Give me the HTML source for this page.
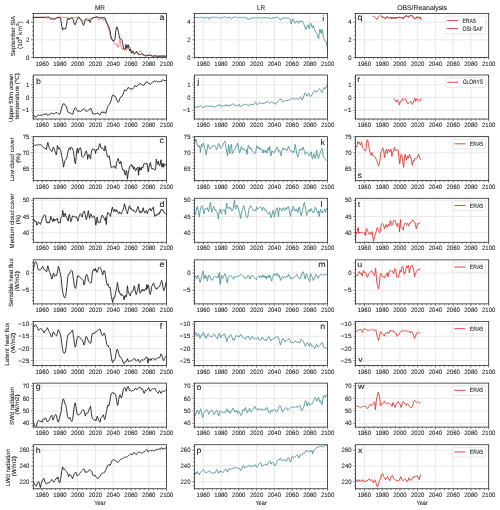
<!DOCTYPE html>
<html><head><meta charset="utf-8"><style>
html,body{margin:0;padding:0;background:#fff;width:500px;height:510px;overflow:hidden}
svg{display:block;will-change:transform}
text{font-family:"Liberation Sans",sans-serif;text-rendering:geometricPrecision;stroke:#1a1a1a;stroke-width:0.08px;paint-order:stroke}
</style></head><body>
<svg width="500" height="510" viewBox="0 0 500 510" font-family="Liberation Sans, sans-serif" fill="#1a1a1a">
<rect width="500" height="510" fill="#fff"/>
<text x="99.9" y="9.8" font-size="6.9" textLength="10.05" lengthAdjust="spacingAndGlyphs" text-anchor="middle">MR</text>
<text x="261" y="9.8" font-size="6.9" textLength="8.08" lengthAdjust="spacingAndGlyphs" text-anchor="middle">LR</text>
<text x="422.1" y="9.8" font-size="6.9" textLength="49.93" lengthAdjust="spacingAndGlyphs" text-anchor="middle">OBS/Reanalysis</text>
<path d="M42.18 13.4V57.4M59.94 13.4V57.4M77.7 13.4V57.4M95.46 13.4V57.4M113.22 13.4V57.4M130.98 13.4V57.4M148.74 13.4V57.4M166.5 13.4V57.4M33.3 57.4H166.5M33.3 39.8H166.5M33.3 22.2H166.5" stroke="#e3e3e3" stroke-width="0.8" fill="none"/>
<clipPath id="cp00"><rect x="33.3" y="13.4" width="133.2" height="44"/></clipPath>
<polyline points="33.03,17.36 45.73,17.36 47.06,18.43 48.4,17.1 51.06,18.03 53.1,18.43 55.77,18.03 59.76,17.1 65.18,17.36 67.84,17.36 69.18,19.37 70.51,18.43 73.17,17.36 75.92,17.62 77.88,16.69 79.21,17.62 80.54,18.7 81.87,20.04 83.21,21.38 84.63,19.77 85.96,18.7 87.29,18.03 88.62,19.37 89.95,18.7 92,18.03 94.66,17.36 97.32,17.36 98.66,20.04 99.9,18.43 100.26,17.62 101.32,18.7 102.65,18.03 103.72,20.71 104.7,19.37 106.03,22.05 107.36,25.4 108.69,29.42 109.67,32.1 110.73,38.13 112.07,39.47 113.58,41.2 114.82,43.6 115.97,45.2 116.77,44 117.57,46.8 118.37,47.2 119.08,43.2 119.61,38.8 120.41,41.2 121.21,47.2 122.01,49.2 122.81,48.8 123.61,48 124.41,48.4 125.21,49.6 126.01,50.8 126.81,49.2 127.61,46 128.4,45.2 129.2,46.4 130,47.2 130.8,49.2 131.6,51.2 132.4,52.4 133.2,54 134,54.8 134.8,54 135.6,53.2 136.4,52 137.2,52 138,54 138.79,53.2 139.59,51.2 140.22,50.19 141.28,51.53 142.17,53.54 144.21,54.88 145.54,55.55 146.88,54.88 148.21,55.55 150.25,54.88 152.29,55.55 154.96,56.22 157.62,55.95 161.62,55.55 167.03,56.22" fill="none" stroke="#f08080" stroke-width="0.9" stroke-linejoin="round" clip-path="url(#cp00)"/>
<polyline points="33.03,17.36 46.44,17.36 47.77,16.69 49.11,17.62 51.06,19.37 52.39,18.7 54.43,19.37 56.48,18.03 59.14,17.36 60.47,18.03 61.18,22.05 61.8,26.74 62.52,30.09 63.58,27.81 64.47,28.75 65.53,29.15 66.51,25.4 67.13,20.04 68.11,18.03 69.18,19.77 70.51,18.03 71.84,17.62 73.17,19.37 74.24,24.06 75.3,24.73 76.55,20.71 77.88,18.03 79.21,17.36 80.54,19.77 81.87,21.38 82.85,24.06 83.65,25.4 84.63,22.05 85.51,19.77 86.58,19.37 87.91,20.71 88.98,19.77 89.95,22.46 90.93,20.04 92,18.43 93.33,17.62 95.28,17.36 97.32,16.69 98.66,17.62 99.9,17.62 100.26,17.62 102.03,18.03 103.98,17.36 105.05,18.03 106.03,20.71 107.36,24.06 108.69,26.07 110.02,30.76 110.73,35.45 111.8,38.8 112.69,40.81 114.11,40.81 115,38.8 115.8,30.76 116.77,26.74 117.39,28.08 118.46,32.1 119.61,38 120.77,38.8 122.01,40.4 122.81,43.6 123.61,49.2 124.41,49.6 125.21,49.2 126.01,44.4 126.81,48.4 127.61,45.2 128.4,44.8 128.94,48.4 129.56,50.8 130.36,49.2 130.8,51.6 131.6,53.2 132.4,50.8 133.2,51.6 134,53.6 134.8,53.6 135.6,52.8 136.4,51.2 137.2,52.8 138,54 138.79,54.8 140.22,54.61 141.55,53.54 142.61,54.88 144.21,54.88 145.54,56.22 146.88,55.55 148.21,55.55 149.54,54.88 150.96,55.55 152.29,56.22 153.62,56.22 154.96,55.55 156.29,56.22 158.95,56.22 161.62,56.22 164.28,56.22 167.03,56.22" fill="none" stroke="#1f1f1f" stroke-width="0.9" stroke-linejoin="round" clip-path="url(#cp00)"/>
<text x="42.18" y="65.6" font-size="6.3" textLength="13.36" lengthAdjust="spacingAndGlyphs" text-anchor="middle">1960</text>
<text x="59.94" y="65.6" font-size="6.3" textLength="13.36" lengthAdjust="spacingAndGlyphs" text-anchor="middle">1980</text>
<text x="77.7" y="65.6" font-size="6.3" textLength="13.36" lengthAdjust="spacingAndGlyphs" text-anchor="middle">2000</text>
<text x="95.46" y="65.6" font-size="6.3" textLength="13.36" lengthAdjust="spacingAndGlyphs" text-anchor="middle">2020</text>
<text x="113.22" y="65.6" font-size="6.3" textLength="13.36" lengthAdjust="spacingAndGlyphs" text-anchor="middle">2040</text>
<text x="130.98" y="65.6" font-size="6.3" textLength="13.36" lengthAdjust="spacingAndGlyphs" text-anchor="middle">2060</text>
<text x="148.74" y="65.6" font-size="6.3" textLength="13.36" lengthAdjust="spacingAndGlyphs" text-anchor="middle">2080</text>
<text x="166.5" y="65.6" font-size="6.3" textLength="13.36" lengthAdjust="spacingAndGlyphs" text-anchor="middle">2100</text>
<path d="M33.3 57.4v1.3M37.74 57.4v1.3M42.18 57.4v2.2M46.62 57.4v1.3M51.06 57.4v1.3M55.5 57.4v1.3M59.94 57.4v2.2M64.38 57.4v1.3M68.82 57.4v1.3M73.26 57.4v1.3M77.7 57.4v2.2M82.14 57.4v1.3M86.58 57.4v1.3M91.02 57.4v1.3M95.46 57.4v2.2M99.9 57.4v1.3M104.34 57.4v1.3M108.78 57.4v1.3M113.22 57.4v2.2M117.66 57.4v1.3M122.1 57.4v1.3M126.54 57.4v1.3M130.98 57.4v2.2M135.42 57.4v1.3M139.86 57.4v1.3M144.3 57.4v1.3M148.74 57.4v2.2M153.18 57.4v1.3M157.62 57.4v1.3M162.06 57.4v1.3M166.5 57.4v2.2M33.3 57.4h-2.2M33.3 53h-1.3M33.3 48.6h-1.3M33.3 44.2h-1.3M33.3 39.8h-2.2M33.3 35.4h-1.3M33.3 31h-1.3M33.3 26.6h-1.3M33.3 22.2h-2.2M33.3 17.8h-1.3M33.3 13.4h-1.3" stroke="#2b2b2b" stroke-width="0.6" fill="none"/>
<text x="29.4" y="59.55" font-size="6.3" textLength="3.34" lengthAdjust="spacingAndGlyphs" text-anchor="end">0</text>
<text x="29.4" y="41.95" font-size="6.3" textLength="3.34" lengthAdjust="spacingAndGlyphs" text-anchor="end">2</text>
<text x="29.4" y="24.35" font-size="6.3" textLength="3.34" lengthAdjust="spacingAndGlyphs" text-anchor="end">4</text>
<rect x="33.3" y="13.4" width="133.2" height="44" fill="none" stroke="#2b2b2b" stroke-width="0.8"/>
<text transform="translate(159.53,20.41) scale(1.08,1)" font-size="8.2">a</text>
<path d="M203.28 13.4V57.4M221.04 13.4V57.4M238.8 13.4V57.4M256.56 13.4V57.4M274.32 13.4V57.4M292.08 13.4V57.4M309.84 13.4V57.4M327.6 13.4V57.4M194.4 57.4H327.6M194.4 39.8H327.6M194.4 22.2H327.6" stroke="#e3e3e3" stroke-width="0.8" fill="none"/>
<clipPath id="cp01"><rect x="194.4" y="13.4" width="133.2" height="44"/></clipPath>
<polyline points="193.96,17.1 195.38,17.36 196.71,17.62 198.04,17.1 199.37,18.03 200.7,17.62 201.33,16.69 202.04,17.36 202.75,18.03 203.64,17.1 204.43,18.43 205.41,17.62 206.3,18.03 207.36,17.36 208.08,17.1 208.7,18.03 209.41,19.37 210.12,17.36 211.18,17.1 212.07,17.62 212.78,17.1 213.85,16.69 214.74,17.36 215.45,17.62 216.51,17.1 217.49,18.03 218.38,17.62 219.44,17.36 220.77,18.03 222.11,17.62 223.44,17.36 224.59,16.69 225.48,17.36 226.19,18.03 227.26,17.36 228.14,18.03 229.12,17.36 230.19,17.1 230.81,18.03 231.52,18.7 232.23,18.03 232.85,17.1 233.56,17.62 234.18,17.36 235.51,16.69 236.58,17.36 237.56,18.03 238.44,17.36 239.6,17.62 240.66,17.36 241.55,18.03 242.53,17.62 243.6,17.36 244.66,18.03 245.55,17.1 246.26,18.03 246.97,18.7 247.59,18.43 248.3,19.77 248.92,18.7 249.63,18.43 250.26,18.03 250.97,18.7 251.85,18.03 252.92,17.62 254.07,18.03 254.96,17.36 255.67,18.03 256.29,18.43 257,17.62 258.07,17.36 258.96,18.03 259.93,17.62 260.82,18.03 261.18,18.03 262.33,17.62 263.66,18.03 265,17.62 266.33,18.03 267.66,17.62 269.08,18.03 270.41,18.03 271.48,18.97 272.37,17.62 273.7,18.03 275.03,17.62 276.45,17.36 277.78,17.1 278.67,18.03 279.74,19.37 280.45,20.31 281.07,18.7 282.13,18.03 283.11,18.43 284.09,17.62 285.15,18.43 286.22,17.62 287.11,18.43 288.44,18.03 289.42,18.43 290.22,19.37 290.75,21.38 291.28,24.06 291.81,21.38 292.52,18.7 293.15,19.37 293.86,20.71 294.48,22.05 295.19,23.39 295.81,22.46 296.52,21.38 297.14,20.71 297.85,22.46 298.56,23.39 299.18,22.05 299.89,20.71 300.52,21.38 301.23,22.05 301.85,20.71 302.56,21.38 303.18,22.46 303.89,24.06 304.51,26.07 305.22,28.08 305.93,29.42 306.55,26.74 307.26,25.4 307.89,24.73 308.6,27.41 309.22,28.75 309.93,25.4 310.55,22.99 311.26,24.73 311.88,26.74 312.59,28.08 313.3,25.4 313.92,27.41 314.64,29.42 315.26,31.43 315.97,32.1 316.59,33.44 317.3,34.78 317.92,36.12 318.63,38.8 319.25,32.77 319.96,29.15 320.67,32.1 321.3,33.44 322.01,29.42 322.63,30.76 323.34,37.46 323.96,39.47 324.67,40.14 325.29,40.81 326,41.48 326.62,44.16 327.07,46.17 327.69,51.13" fill="none" stroke="#4f9497" stroke-width="0.9" stroke-linejoin="round" clip-path="url(#cp01)"/>
<text x="203.28" y="65.6" font-size="6.3" textLength="13.36" lengthAdjust="spacingAndGlyphs" text-anchor="middle">1960</text>
<text x="221.04" y="65.6" font-size="6.3" textLength="13.36" lengthAdjust="spacingAndGlyphs" text-anchor="middle">1980</text>
<text x="238.8" y="65.6" font-size="6.3" textLength="13.36" lengthAdjust="spacingAndGlyphs" text-anchor="middle">2000</text>
<text x="256.56" y="65.6" font-size="6.3" textLength="13.36" lengthAdjust="spacingAndGlyphs" text-anchor="middle">2020</text>
<text x="274.32" y="65.6" font-size="6.3" textLength="13.36" lengthAdjust="spacingAndGlyphs" text-anchor="middle">2040</text>
<text x="292.08" y="65.6" font-size="6.3" textLength="13.36" lengthAdjust="spacingAndGlyphs" text-anchor="middle">2060</text>
<text x="309.84" y="65.6" font-size="6.3" textLength="13.36" lengthAdjust="spacingAndGlyphs" text-anchor="middle">2080</text>
<text x="327.6" y="65.6" font-size="6.3" textLength="13.36" lengthAdjust="spacingAndGlyphs" text-anchor="middle">2100</text>
<path d="M194.4 57.4v1.3M198.84 57.4v1.3M203.28 57.4v2.2M207.72 57.4v1.3M212.16 57.4v1.3M216.6 57.4v1.3M221.04 57.4v2.2M225.48 57.4v1.3M229.92 57.4v1.3M234.36 57.4v1.3M238.8 57.4v2.2M243.24 57.4v1.3M247.68 57.4v1.3M252.12 57.4v1.3M256.56 57.4v2.2M261 57.4v1.3M265.44 57.4v1.3M269.88 57.4v1.3M274.32 57.4v2.2M278.76 57.4v1.3M283.2 57.4v1.3M287.64 57.4v1.3M292.08 57.4v2.2M296.52 57.4v1.3M300.96 57.4v1.3M305.4 57.4v1.3M309.84 57.4v2.2M314.28 57.4v1.3M318.72 57.4v1.3M323.16 57.4v1.3M327.6 57.4v2.2M194.4 57.4h-2.2M194.4 53h-1.3M194.4 48.6h-1.3M194.4 44.2h-1.3M194.4 39.8h-2.2M194.4 35.4h-1.3M194.4 31h-1.3M194.4 26.6h-1.3M194.4 22.2h-2.2M194.4 17.8h-1.3M194.4 13.4h-1.3" stroke="#2b2b2b" stroke-width="0.6" fill="none"/>
<text x="190.5" y="59.55" font-size="6.3" textLength="3.34" lengthAdjust="spacingAndGlyphs" text-anchor="end">0</text>
<text x="190.5" y="41.95" font-size="6.3" textLength="3.34" lengthAdjust="spacingAndGlyphs" text-anchor="end">2</text>
<text x="190.5" y="24.35" font-size="6.3" textLength="3.34" lengthAdjust="spacingAndGlyphs" text-anchor="end">4</text>
<rect x="194.4" y="13.4" width="133.2" height="44" fill="none" stroke="#2b2b2b" stroke-width="0.8"/>
<text transform="translate(322.16,20.84) scale(1.08,1)" font-size="8.2">i</text>
<path d="M364.38 13.4V57.4M382.14 13.4V57.4M399.9 13.4V57.4M417.66 13.4V57.4M435.42 13.4V57.4M453.18 13.4V57.4M470.94 13.4V57.4M488.7 13.4V57.4M355.5 57.4H488.7M355.5 39.8H488.7M355.5 22.2H488.7" stroke="#e3e3e3" stroke-width="0.8" fill="none"/>
<clipPath id="cp02"><rect x="355.5" y="13.4" width="133.2" height="44"/></clipPath>
<polyline points="372.73,16.3 373.62,16.3 374.5,16.6 375.39,17.5 376.01,18.1 376.46,19.3 376.9,19.72 377.34,19.3 377.79,18.1 378.41,17.2 379.3,16.3 379.92,15.7 380.54,15.4 381.07,16 381.7,16.6 382.58,17.2 383.47,17.2 384.36,17.5 384.98,18.28 385.51,18.7 385.87,18.1 386.49,17.2 387.11,16.3 387.73,16.6 388.27,17.5 388.89,17.92 389.51,17.32 390.13,18.1 390.66,17.5 391.29,18.28 391.91,17.32 392.53,18.1 393.06,17.5 393.68,18.4 394.31,17.32 394.93,18.1 395.46,17.5 396.08,18.28 396.7,17.32 397.59,17.8 398.04,17.5 398.83,17.32 399.19,17.2 400.43,17.8 401.59,17.5 402.83,18.4 403.98,17.8 405.23,16.3 406.38,15.7 407.63,16.6 408.78,16.9 410.02,15.7 411.18,15.4 412.42,16 413.58,17.8 414.82,18.7 415.97,18.1 417.22,16.9 418.37,17.5 419.26,17.8 420.24,17.2 420.77,18.7 421.39,19.6" fill="none" stroke="#de3430" stroke-width="0.9" stroke-linejoin="round" clip-path="url(#cp02)"/>
<polyline points="381.7,16.96 382.58,16.96 383.47,17.56 384.36,17.26 384.98,18.04 385.51,19.06 385.87,18.46 386.49,16.96 387.11,16.66 387.73,16.96 388.27,17.26 388.89,18.28 389.51,17.68 390.13,17.86 390.66,17.86 391.29,18.64 391.91,17.08 392.53,18.46 393.06,17.86 393.68,18.16 394.31,17.68 394.93,18.46 395.46,17.26 396.08,18.64 396.7,17.68 397.59,17.56 398.04,17.2 398.83,17.08 399.19,17.5 400.43,17.5 401.59,17.8 402.83,18.1 403.98,18.1 405.23,16 406.38,16 407.63,16.3 408.78,17.2 410.02,15.4 411.18,15.7 412.42,15.7 413.58,18.1 414.82,18.4 415.97,18.4 417.22,16.6 418.37,17.8 419.26,18.1 420.24,16.9 420.77,19 421.39,19.9" fill="none" stroke="#b5403a" stroke-width="0.9" stroke-linejoin="round" clip-path="url(#cp02)"/>
<text x="364.38" y="65.6" font-size="6.3" textLength="13.36" lengthAdjust="spacingAndGlyphs" text-anchor="middle">1960</text>
<text x="382.14" y="65.6" font-size="6.3" textLength="13.36" lengthAdjust="spacingAndGlyphs" text-anchor="middle">1980</text>
<text x="399.9" y="65.6" font-size="6.3" textLength="13.36" lengthAdjust="spacingAndGlyphs" text-anchor="middle">2000</text>
<text x="417.66" y="65.6" font-size="6.3" textLength="13.36" lengthAdjust="spacingAndGlyphs" text-anchor="middle">2020</text>
<text x="435.42" y="65.6" font-size="6.3" textLength="13.36" lengthAdjust="spacingAndGlyphs" text-anchor="middle">2040</text>
<text x="453.18" y="65.6" font-size="6.3" textLength="13.36" lengthAdjust="spacingAndGlyphs" text-anchor="middle">2060</text>
<text x="470.94" y="65.6" font-size="6.3" textLength="13.36" lengthAdjust="spacingAndGlyphs" text-anchor="middle">2080</text>
<text x="488.7" y="65.6" font-size="6.3" textLength="13.36" lengthAdjust="spacingAndGlyphs" text-anchor="middle">2100</text>
<path d="M355.5 57.4v1.3M359.94 57.4v1.3M364.38 57.4v2.2M368.82 57.4v1.3M373.26 57.4v1.3M377.7 57.4v1.3M382.14 57.4v2.2M386.58 57.4v1.3M391.02 57.4v1.3M395.46 57.4v1.3M399.9 57.4v2.2M404.34 57.4v1.3M408.78 57.4v1.3M413.22 57.4v1.3M417.66 57.4v2.2M422.1 57.4v1.3M426.54 57.4v1.3M430.98 57.4v1.3M435.42 57.4v2.2M439.86 57.4v1.3M444.3 57.4v1.3M448.74 57.4v1.3M453.18 57.4v2.2M457.62 57.4v1.3M462.06 57.4v1.3M466.5 57.4v1.3M470.94 57.4v2.2M475.38 57.4v1.3M479.82 57.4v1.3M484.26 57.4v1.3M488.7 57.4v2.2M355.5 57.4h-2.2M355.5 53h-1.3M355.5 48.6h-1.3M355.5 44.2h-1.3M355.5 39.8h-2.2M355.5 35.4h-1.3M355.5 31h-1.3M355.5 26.6h-1.3M355.5 22.2h-2.2M355.5 17.8h-1.3M355.5 13.4h-1.3" stroke="#2b2b2b" stroke-width="0.6" fill="none"/>
<text x="351.6" y="59.55" font-size="6.3" textLength="3.34" lengthAdjust="spacingAndGlyphs" text-anchor="end">0</text>
<text x="351.6" y="41.95" font-size="6.3" textLength="3.34" lengthAdjust="spacingAndGlyphs" text-anchor="end">2</text>
<text x="351.6" y="24.35" font-size="6.3" textLength="3.34" lengthAdjust="spacingAndGlyphs" text-anchor="end">4</text>
<rect x="355.5" y="13.4" width="133.2" height="44" fill="none" stroke="#2b2b2b" stroke-width="0.8"/>
<text transform="translate(357.53,20.11) scale(1.08,1)" font-size="8.2">q</text>
<rect x="445.2" y="16.1" width="40.6" height="17.6" rx="1.3" fill="#fff" fill-opacity="0.8" stroke="#d6d6d6" stroke-width="0.6"/>
<line x1="446.9" y1="20.6" x2="458.1" y2="20.6" stroke="#de3430" stroke-width="0.9"/>
<text x="462.4" y="22.7" font-size="6.3" textLength="13.42" lengthAdjust="spacingAndGlyphs">ERA5</text>
<line x1="446.9" y1="28.6" x2="458.1" y2="28.6" stroke="#b5403a" stroke-width="0.9"/>
<text x="462.4" y="30.7" font-size="6.3" textLength="20.55" lengthAdjust="spacingAndGlyphs">OSI-SAF</text>
<text transform="translate(15,36.2) rotate(-90)" font-size="6.0" text-anchor="middle" textLength="40.28" lengthAdjust="spacingAndGlyphs">September SIA</text>
<text transform="translate(21.6,35.1) rotate(-90) scale(1.1,1)" font-size="6.0" text-anchor="middle">(10<tspan font-size="4.3" dy="-2.3">6</tspan><tspan dy="2.3"> km</tspan><tspan font-size="4.3" dy="-2.3">2</tspan><tspan dy="2.3">)</tspan></text>
<path d="M42.18 75.02V119.02M59.94 75.02V119.02M77.7 75.02V119.02M95.46 75.02V119.02M113.22 75.02V119.02M130.98 75.02V119.02M148.74 75.02V119.02M166.5 75.02V119.02M33.3 110.25H166.5M33.3 97.53H166.5M33.3 84.81H166.5" stroke="#e3e3e3" stroke-width="0.8" fill="none"/>
<clipPath id="cp10"><rect x="33.3" y="75.02" width="133.2" height="44"/></clipPath>
<polyline points="33.03,114.2 34.1,115.54 34.99,116.88 35.96,117.15 37.03,116.21 38.36,114.87 39.69,115.54 41.03,114.87 42.36,115.27 43.69,114.2 45.02,114.47 46.44,113.53 47.77,115.54 49.11,114.2 50.44,113.93 51.77,112.87 53.1,114.2 54.43,113.53 55.77,112.87 57.1,112.6 58.43,113.93 59.76,114.2 60.47,112.87 61.18,109.51 62.25,106.16 63.14,104.15 64.11,103.48 65.18,105.49 66.24,106.16 67.13,109.51 68.11,112.19 69.18,112.87 70.51,113.13 71.84,113.93 72.82,114.2 73.88,110.18 74.77,108.17 75.57,107.5 76.55,109.51 77.88,111.52 79.21,110.86 80.54,111.52 81.87,110.18 83.21,109.51 84.18,108.57 85.25,109.91 86.31,111.78 87.29,110.86 88.62,109.91 89.95,109.11 90.93,108.17 91.73,110.45 92.62,113.53 93.95,113.93 95.28,113.93 96.61,113.53 97.95,112.87 98.92,114.2 99.9,114.87 100.17,114.87 100.7,113.53 101.32,112.19 102.03,112.87 102.65,111.52 103.72,112.87 104.7,112.19 105.67,113.53 106.47,110.86 107.36,107.5 108.34,105.49 109.4,104.15 110.47,102.14 111.36,99.46 112.33,95.44 113.13,94.77 114.11,96.1 115,96.1 116.06,98.13 117.13,100.8 118.1,102.41 118.99,101.47 119.79,98.79 120.77,97.05 122.1,96.1 123.08,94.1 123.88,91.42 124.76,89.81 126.1,90.75 127.07,89.81 128.14,87.41 129.2,88.07 130.18,89.01 131.07,88.47 132.13,89.42 133.2,88.07 134.18,87.13 135.06,85.38 136.22,86.73 137.28,86.06 138.17,84.72 139.15,84.05 140.22,83.64 141.28,84.46 142.17,84.72 143.15,85.38 144.21,85.12 145.28,83.37 146.25,81.77 147.14,82.04 148.21,83.37 149.27,83.64 150.25,84.46 151.23,83.64 152.29,82.31 153.36,81.77 154.25,80.97 155.22,81.77 156.29,80.97 157.35,81.77 158.33,81.37 159.22,82.04 160.28,81.37 161.35,81.77 162.33,80.03 163.21,79.62 164.01,80.7 164.99,80.44 165.97,80.97 167.03,80.03" fill="none" stroke="#1f1f1f" stroke-width="0.9" stroke-linejoin="round" clip-path="url(#cp10)"/>
<text x="42.18" y="127.22" font-size="6.3" textLength="13.36" lengthAdjust="spacingAndGlyphs" text-anchor="middle">1960</text>
<text x="59.94" y="127.22" font-size="6.3" textLength="13.36" lengthAdjust="spacingAndGlyphs" text-anchor="middle">1980</text>
<text x="77.7" y="127.22" font-size="6.3" textLength="13.36" lengthAdjust="spacingAndGlyphs" text-anchor="middle">2000</text>
<text x="95.46" y="127.22" font-size="6.3" textLength="13.36" lengthAdjust="spacingAndGlyphs" text-anchor="middle">2020</text>
<text x="113.22" y="127.22" font-size="6.3" textLength="13.36" lengthAdjust="spacingAndGlyphs" text-anchor="middle">2040</text>
<text x="130.98" y="127.22" font-size="6.3" textLength="13.36" lengthAdjust="spacingAndGlyphs" text-anchor="middle">2060</text>
<text x="148.74" y="127.22" font-size="6.3" textLength="13.36" lengthAdjust="spacingAndGlyphs" text-anchor="middle">2080</text>
<text x="166.5" y="127.22" font-size="6.3" textLength="13.36" lengthAdjust="spacingAndGlyphs" text-anchor="middle">2100</text>
<path d="M33.3 119.02v1.3M37.74 119.02v1.3M42.18 119.02v2.2M46.62 119.02v1.3M51.06 119.02v1.3M55.5 119.02v1.3M59.94 119.02v2.2M64.38 119.02v1.3M68.82 119.02v1.3M73.26 119.02v1.3M77.7 119.02v2.2M82.14 119.02v1.3M86.58 119.02v1.3M91.02 119.02v1.3M95.46 119.02v2.2M99.9 119.02v1.3M104.34 119.02v1.3M108.78 119.02v1.3M113.22 119.02v2.2M117.66 119.02v1.3M122.1 119.02v1.3M126.54 119.02v1.3M130.98 119.02v2.2M135.42 119.02v1.3M139.86 119.02v1.3M144.3 119.02v1.3M148.74 119.02v2.2M153.18 119.02v1.3M157.62 119.02v1.3M162.06 119.02v1.3M166.5 119.02v2.2M33.3 117.88h-1.3M33.3 115.33h-1.3M33.3 112.79h-1.3M33.3 110.25h-2.2M33.3 107.7h-1.3M33.3 105.16h-1.3M33.3 102.62h-1.3M33.3 100.07h-1.3M33.3 97.53h-2.2M33.3 94.99h-1.3M33.3 92.44h-1.3M33.3 89.9h-1.3M33.3 87.36h-1.3M33.3 84.81h-2.2M33.3 82.27h-1.3M33.3 79.73h-1.3M33.3 77.18h-1.3" stroke="#2b2b2b" stroke-width="0.6" fill="none"/>
<text x="29.4" y="112.4" font-size="6.3" textLength="7.74" lengthAdjust="spacingAndGlyphs" text-anchor="end">−1</text>
<text x="29.4" y="99.68" font-size="6.3" textLength="3.34" lengthAdjust="spacingAndGlyphs" text-anchor="end">0</text>
<text x="29.4" y="86.96" font-size="6.3" textLength="3.34" lengthAdjust="spacingAndGlyphs" text-anchor="end">1</text>
<rect x="33.3" y="75.02" width="133.2" height="44" fill="none" stroke="#2b2b2b" stroke-width="0.8"/>
<text transform="translate(35.92,83.74) scale(1.08,1)" font-size="8.2">b</text>
<path d="M203.28 75.02V119.02M221.04 75.02V119.02M238.8 75.02V119.02M256.56 75.02V119.02M274.32 75.02V119.02M292.08 75.02V119.02M309.84 75.02V119.02M327.6 75.02V119.02M194.4 110.25H327.6M194.4 97.53H327.6M194.4 84.81H327.6" stroke="#e3e3e3" stroke-width="0.8" fill="none"/>
<clipPath id="cp11"><rect x="194.4" y="75.02" width="133.2" height="44"/></clipPath>
<polyline points="193.96,105.49 194.67,106.82 195.38,108.17 196,107.5 196.71,106.82 197.33,107.5 198.04,106.43 198.66,106.16 199.37,106.82 199.99,105.9 200.7,105.49 201.33,106.16 202.04,107.23 202.75,107.5 203.37,108.17 204.08,106.82 204.7,106.43 206.03,106.43 207.36,106.16 208.7,106.16 210.12,106.43 211.45,105.9 212.78,106.16 214.11,107.23 215.45,106.82 216.07,106.16 216.78,105.49 217.49,105.08 218.11,106.16 218.82,105.49 219.44,104.15 220.15,104.82 220.77,106.16 221.48,105.49 222.11,106.82 222.82,106.16 223.44,105.49 224.15,105.9 224.86,104.82 225.48,105.08 226.19,105.9 226.81,104.55 227.52,105.08 228.14,106.43 228.85,106.16 229.48,105.49 230.19,105.9 230.81,104.82 231.52,105.08 232.23,104.15 232.85,103.48 233.56,104.15 234.18,104.82 234.89,105.49 235.51,105.08 236.22,106.16 236.85,105.49 237.56,105.9 238.18,105.49 238.89,104.15 239.6,105.49 240.22,106.82 240.93,105.9 241.55,105.49 242.26,105.9 242.88,105.08 243.6,104.82 244.22,104.55 244.93,104.15 245.55,104.82 246.26,104.15 246.97,104.55 247.59,104.82 248.3,105.9 248.92,105.49 249.63,104.55 250.26,104.15 250.97,104.82 251.59,104.55 252.3,104.15 252.92,105.08 253.63,104.15 254.34,103.48 254.96,102.81 255.67,102.14 256.29,103.75 257,104.82 257.63,104.15 258.34,103.75 258.96,103.21 259.67,102.81 260.29,103.21 260.82,102.81 261.18,102.81 262.07,103.75 263.04,103.21 263.93,103.48 265,102.81 266.06,102.41 267.04,101.88 267.93,101.47 268.81,102.41 269.7,103.21 270.68,102.14 271.48,101.47 272.37,102.41 273.34,103.21 274.41,102.81 275.03,103.75 275.74,104.15 276.45,103.21 277.07,102.41 277.78,101.47 278.4,100.8 279.12,100.14 279.74,99.46 280.45,99.19 281.07,98.79 281.78,100.14 282.4,101.47 283.11,102.14 283.82,101.47 284.44,100.8 285.15,100.53 286.49,100.53 287.82,100.14 289.15,100.14 289.77,99.46 290.48,99.19 291.19,98.79 291.81,98.13 292.52,98.39 293.15,98.79 293.86,98.39 294.48,98.79 295.19,99.46 295.81,98.79 296.52,98.79 297.14,99.19 297.85,98.79 298.56,99.46 299.18,98.79 299.89,97.45 300.52,96.78 301.23,98.13 301.85,100.14 302.56,99.46 303.18,98.13 303.89,96.1 304.51,94.1 305.22,92.76 305.93,93.83 306.55,95.44 307.26,96.1 307.89,94.77 308.6,93.43 309.22,94.1 309.93,95.71 310.55,96.78 311.26,96.1 311.88,94.77 312.59,93.83 313.3,92.49 313.92,91.42 314.64,90.75 315.26,91.16 315.97,91.69 316.59,92.09 317.3,91.16 317.92,90.34 318.63,89.42 319.25,88.74 319.96,89.42 320.67,90.08 321.3,91.42 322.01,92.76 322.63,91.42 323.34,89.42 323.96,87.41 324.67,88.07 325.29,88.74 326,87.41 326.62,85.79 327.33,84.46 328.04,83.64" fill="none" stroke="#4f9497" stroke-width="0.9" stroke-linejoin="round" clip-path="url(#cp11)"/>
<text x="203.28" y="127.22" font-size="6.3" textLength="13.36" lengthAdjust="spacingAndGlyphs" text-anchor="middle">1960</text>
<text x="221.04" y="127.22" font-size="6.3" textLength="13.36" lengthAdjust="spacingAndGlyphs" text-anchor="middle">1980</text>
<text x="238.8" y="127.22" font-size="6.3" textLength="13.36" lengthAdjust="spacingAndGlyphs" text-anchor="middle">2000</text>
<text x="256.56" y="127.22" font-size="6.3" textLength="13.36" lengthAdjust="spacingAndGlyphs" text-anchor="middle">2020</text>
<text x="274.32" y="127.22" font-size="6.3" textLength="13.36" lengthAdjust="spacingAndGlyphs" text-anchor="middle">2040</text>
<text x="292.08" y="127.22" font-size="6.3" textLength="13.36" lengthAdjust="spacingAndGlyphs" text-anchor="middle">2060</text>
<text x="309.84" y="127.22" font-size="6.3" textLength="13.36" lengthAdjust="spacingAndGlyphs" text-anchor="middle">2080</text>
<text x="327.6" y="127.22" font-size="6.3" textLength="13.36" lengthAdjust="spacingAndGlyphs" text-anchor="middle">2100</text>
<path d="M194.4 119.02v1.3M198.84 119.02v1.3M203.28 119.02v2.2M207.72 119.02v1.3M212.16 119.02v1.3M216.6 119.02v1.3M221.04 119.02v2.2M225.48 119.02v1.3M229.92 119.02v1.3M234.36 119.02v1.3M238.8 119.02v2.2M243.24 119.02v1.3M247.68 119.02v1.3M252.12 119.02v1.3M256.56 119.02v2.2M261 119.02v1.3M265.44 119.02v1.3M269.88 119.02v1.3M274.32 119.02v2.2M278.76 119.02v1.3M283.2 119.02v1.3M287.64 119.02v1.3M292.08 119.02v2.2M296.52 119.02v1.3M300.96 119.02v1.3M305.4 119.02v1.3M309.84 119.02v2.2M314.28 119.02v1.3M318.72 119.02v1.3M323.16 119.02v1.3M327.6 119.02v2.2M194.4 117.88h-1.3M194.4 115.33h-1.3M194.4 112.79h-1.3M194.4 110.25h-2.2M194.4 107.7h-1.3M194.4 105.16h-1.3M194.4 102.62h-1.3M194.4 100.07h-1.3M194.4 97.53h-2.2M194.4 94.99h-1.3M194.4 92.44h-1.3M194.4 89.9h-1.3M194.4 87.36h-1.3M194.4 84.81h-2.2M194.4 82.27h-1.3M194.4 79.73h-1.3M194.4 77.18h-1.3" stroke="#2b2b2b" stroke-width="0.6" fill="none"/>
<text x="190.5" y="112.4" font-size="6.3" textLength="7.74" lengthAdjust="spacingAndGlyphs" text-anchor="end">−1</text>
<text x="190.5" y="99.68" font-size="6.3" textLength="3.34" lengthAdjust="spacingAndGlyphs" text-anchor="end">0</text>
<text x="190.5" y="86.96" font-size="6.3" textLength="3.34" lengthAdjust="spacingAndGlyphs" text-anchor="end">1</text>
<rect x="194.4" y="75.02" width="133.2" height="44" fill="none" stroke="#2b2b2b" stroke-width="0.8"/>
<text transform="translate(197.21,83.94) scale(1.08,1)" font-size="8.2">j</text>
<path d="M364.38 75.02V119.02M382.14 75.02V119.02M399.9 75.02V119.02M417.66 75.02V119.02M435.42 75.02V119.02M453.18 75.02V119.02M470.94 75.02V119.02M488.7 75.02V119.02M355.5 110.25H488.7M355.5 97.53H488.7M355.5 84.81H488.7" stroke="#e3e3e3" stroke-width="0.8" fill="none"/>
<clipPath id="cp12"><rect x="355.5" y="75.02" width="133.2" height="44"/></clipPath>
<polyline points="393.24,98.55 394.04,99 394.93,99.89 395.64,100.8 396.26,102.14 396.88,100.8 397.59,99.89 398.3,101.7 398.92,103.51 399.37,104.85 399.81,103.51 400.34,101.25 401.05,101.7 401.68,100.35 402.3,98.55 402.83,99.45 403.45,100.35 404.07,99.45 404.78,98.55 405.49,99 406.12,99.89 406.56,101.7 407.36,103.51 407.98,103.05 408.6,103.51 409.31,102.6 410.02,102.14 410.64,101.25 411.27,102.6 411.8,103.51 412.42,104.4 413.04,103.05 413.66,100.8 414.29,99.45 414.73,98.1 415.17,99 415.62,101.7 416.33,100.35 416.95,98.55 417.57,99.45 418.28,99.89 418.99,100.35 419.61,101.25 420.32,100.35 420.86,99 421.48,98.1" fill="none" stroke="#de3430" stroke-width="0.9" stroke-linejoin="round" clip-path="url(#cp12)"/>
<text x="364.38" y="127.22" font-size="6.3" textLength="13.36" lengthAdjust="spacingAndGlyphs" text-anchor="middle">1960</text>
<text x="382.14" y="127.22" font-size="6.3" textLength="13.36" lengthAdjust="spacingAndGlyphs" text-anchor="middle">1980</text>
<text x="399.9" y="127.22" font-size="6.3" textLength="13.36" lengthAdjust="spacingAndGlyphs" text-anchor="middle">2000</text>
<text x="417.66" y="127.22" font-size="6.3" textLength="13.36" lengthAdjust="spacingAndGlyphs" text-anchor="middle">2020</text>
<text x="435.42" y="127.22" font-size="6.3" textLength="13.36" lengthAdjust="spacingAndGlyphs" text-anchor="middle">2040</text>
<text x="453.18" y="127.22" font-size="6.3" textLength="13.36" lengthAdjust="spacingAndGlyphs" text-anchor="middle">2060</text>
<text x="470.94" y="127.22" font-size="6.3" textLength="13.36" lengthAdjust="spacingAndGlyphs" text-anchor="middle">2080</text>
<text x="488.7" y="127.22" font-size="6.3" textLength="13.36" lengthAdjust="spacingAndGlyphs" text-anchor="middle">2100</text>
<path d="M355.5 119.02v1.3M359.94 119.02v1.3M364.38 119.02v2.2M368.82 119.02v1.3M373.26 119.02v1.3M377.7 119.02v1.3M382.14 119.02v2.2M386.58 119.02v1.3M391.02 119.02v1.3M395.46 119.02v1.3M399.9 119.02v2.2M404.34 119.02v1.3M408.78 119.02v1.3M413.22 119.02v1.3M417.66 119.02v2.2M422.1 119.02v1.3M426.54 119.02v1.3M430.98 119.02v1.3M435.42 119.02v2.2M439.86 119.02v1.3M444.3 119.02v1.3M448.74 119.02v1.3M453.18 119.02v2.2M457.62 119.02v1.3M462.06 119.02v1.3M466.5 119.02v1.3M470.94 119.02v2.2M475.38 119.02v1.3M479.82 119.02v1.3M484.26 119.02v1.3M488.7 119.02v2.2M355.5 117.88h-1.3M355.5 115.33h-1.3M355.5 112.79h-1.3M355.5 110.25h-2.2M355.5 107.7h-1.3M355.5 105.16h-1.3M355.5 102.62h-1.3M355.5 100.07h-1.3M355.5 97.53h-2.2M355.5 94.99h-1.3M355.5 92.44h-1.3M355.5 89.9h-1.3M355.5 87.36h-1.3M355.5 84.81h-2.2M355.5 82.27h-1.3M355.5 79.73h-1.3M355.5 77.18h-1.3" stroke="#2b2b2b" stroke-width="0.6" fill="none"/>
<text x="351.6" y="112.4" font-size="6.3" textLength="7.74" lengthAdjust="spacingAndGlyphs" text-anchor="end">−1</text>
<text x="351.6" y="99.68" font-size="6.3" textLength="3.34" lengthAdjust="spacingAndGlyphs" text-anchor="end">0</text>
<text x="351.6" y="86.96" font-size="6.3" textLength="3.34" lengthAdjust="spacingAndGlyphs" text-anchor="end">1</text>
<rect x="355.5" y="75.02" width="133.2" height="44" fill="none" stroke="#2b2b2b" stroke-width="0.8"/>
<text transform="translate(357.32,82.11) scale(1.08,1)" font-size="8.2">r</text>
<rect x="445.5" y="77.72" width="39.8" height="9.6" rx="1.3" fill="#fff" fill-opacity="0.8" stroke="#d6d6d6" stroke-width="0.6"/>
<line x1="447.2" y1="82.22" x2="458.4" y2="82.22" stroke="#de3430" stroke-width="0.9"/>
<text x="462.7" y="84.32" font-size="6.3" textLength="20.39" lengthAdjust="spacingAndGlyphs">GLORYS</text>
<text transform="translate(12.6,97.82) rotate(-90)" font-size="6.0" text-anchor="middle" textLength="48.24" lengthAdjust="spacingAndGlyphs">Upper 50m ocean</text>
<text transform="translate(18.5,96.42) rotate(-90)" font-size="6.0" text-anchor="middle" textLength="46.34" lengthAdjust="spacingAndGlyphs">temperature (°C)</text>
<path d="M42.18 136.64V180.64M59.94 136.64V180.64M77.7 136.64V180.64M95.46 136.64V180.64M113.22 136.64V180.64M130.98 136.64V180.64M148.74 136.64V180.64M166.5 136.64V180.64M33.3 168.61H166.5M33.3 152.78H166.5M33.3 136.96H166.5" stroke="#e3e3e3" stroke-width="0.8" fill="none"/>
<clipPath id="cp20"><rect x="33.3" y="136.64" width="133.2" height="44"/></clipPath>
<polyline points="33.03,147.73 33.66,145.72 34.63,145.05 35.7,145.45 36.76,144.65 37.65,145.05 38.63,144.38 39.69,145.05 40.76,144.65 41.74,145.45 42.62,146.79 43.69,147.73 44.76,148.4 45.73,148.13 46.44,149.47 47.06,145.72 47.77,142.37 48.4,144.38 49.11,147.73 50.17,149.47 51.06,150.81 52.04,151.35 52.84,148.4 53.37,147.06 54.08,148.4 54.7,150.81 55.5,152.42 56.21,154.83 56.83,151.75 57.36,145.45 58.08,147.73 58.7,149.07 59.41,147.73 60.21,149.74 60.83,150.81 61.54,155.1 62.25,158.45 62.87,161.8 63.58,167.16 64.2,163.81 64.91,160.46 65.8,159.79 66.78,157.78 67.58,153.76 68.55,149.47 69.44,147.73 70.24,149.74 71.22,147.06 72.11,147.73 72.9,149.47 73.44,151.75 74.15,156.44 74.77,161.8 75.48,163.81 76.19,156.44 76.81,149.74 77.52,148.13 78.14,153.09 78.85,150.01 79.65,148.13 80.54,147.73 81.25,151.08 81.87,156.44 82.85,157.51 83.65,156.44 84.63,155.1 85.51,152.42 86.31,150.81 87.02,153.76 87.65,159.39 88.36,155.1 88.98,154.43 89.78,157.11 90.58,159.12 91.29,152.42 92,149.47 92.88,149.07 93.95,149.47 94.93,149.74 95.55,153.49 96.26,150.01 97.06,149.07 97.95,149.74 98.66,147.73 99.37,144.38 99.9,143.71 100.17,143.71 100.7,147.06 101.59,148.4 102.39,147.73 103.36,149.47 104.25,151.08 105.05,145.72 105.67,147.73 106.47,152.42 107.36,156.44 108.34,157.11 109.14,155.77 110.02,160.46 110.73,165.15 111.36,167.83 112.33,167.16 113.4,166.89 114.37,165.82 115,167.83 115.8,168.23 116.51,163.14 117.39,160.46 118.19,158.45 118.99,161.8 119.79,163.81 120.77,161.13 121.48,165.15 122.1,167.83 123.08,170.51 124.14,169.84 124.76,173.86 125.47,175.2 126.1,170.51 126.81,171.18 127.43,179.22 128.14,173.86 128.85,170.51 129.47,166.49 130.54,165.82 131.51,164.48 132.13,167.16 132.84,165.82 133.73,169.17 134.53,167.16 135.42,170.91 136.22,170.11 137.02,167.83 137.82,167.16 138.62,175.2 139.24,167.16 139.95,170.51 140.57,167.83 141.28,169.84 141.9,166.89 142.88,167.83 143.68,164.48 144.48,163.14 145.28,163.81 146.25,163.81 146.88,163.14 147.59,167.16 148.21,171.85 149.01,167.16 149.81,163.81 150.52,162.47 151.23,167.16 152.03,169.17 152.91,168.5 153.89,169.17 154.96,170.11 155.58,169.17 156.29,159.12 157.09,163.14 157.62,164.48 158.33,161.13 158.95,164.21 159.66,165.82 160.28,163.81 160.99,159.79 161.62,166.49 162.33,167.16 162.95,163.14 163.66,167.16 164.28,163.81 165.43,165.15 166.32,164.48 167.03,165.15" fill="none" stroke="#1f1f1f" stroke-width="0.9" stroke-linejoin="round" clip-path="url(#cp20)"/>
<text x="42.18" y="188.84" font-size="6.3" textLength="13.36" lengthAdjust="spacingAndGlyphs" text-anchor="middle">1960</text>
<text x="59.94" y="188.84" font-size="6.3" textLength="13.36" lengthAdjust="spacingAndGlyphs" text-anchor="middle">1980</text>
<text x="77.7" y="188.84" font-size="6.3" textLength="13.36" lengthAdjust="spacingAndGlyphs" text-anchor="middle">2000</text>
<text x="95.46" y="188.84" font-size="6.3" textLength="13.36" lengthAdjust="spacingAndGlyphs" text-anchor="middle">2020</text>
<text x="113.22" y="188.84" font-size="6.3" textLength="13.36" lengthAdjust="spacingAndGlyphs" text-anchor="middle">2040</text>
<text x="130.98" y="188.84" font-size="6.3" textLength="13.36" lengthAdjust="spacingAndGlyphs" text-anchor="middle">2060</text>
<text x="148.74" y="188.84" font-size="6.3" textLength="13.36" lengthAdjust="spacingAndGlyphs" text-anchor="middle">2080</text>
<text x="166.5" y="188.84" font-size="6.3" textLength="13.36" lengthAdjust="spacingAndGlyphs" text-anchor="middle">2100</text>
<path d="M33.3 180.64v1.3M37.74 180.64v1.3M42.18 180.64v2.2M46.62 180.64v1.3M51.06 180.64v1.3M55.5 180.64v1.3M59.94 180.64v2.2M64.38 180.64v1.3M68.82 180.64v1.3M73.26 180.64v1.3M77.7 180.64v2.2M82.14 180.64v1.3M86.58 180.64v1.3M91.02 180.64v1.3M95.46 180.64v2.2M99.9 180.64v1.3M104.34 180.64v1.3M108.78 180.64v1.3M113.22 180.64v2.2M117.66 180.64v1.3M122.1 180.64v1.3M126.54 180.64v1.3M130.98 180.64v2.2M135.42 180.64v1.3M139.86 180.64v1.3M144.3 180.64v1.3M148.74 180.64v2.2M153.18 180.64v1.3M157.62 180.64v1.3M162.06 180.64v1.3M166.5 180.64v2.2M33.3 178.11h-1.3M33.3 174.94h-1.3M33.3 171.78h-1.3M33.3 168.61h-2.2M33.3 165.45h-1.3M33.3 162.28h-1.3M33.3 159.11h-1.3M33.3 155.95h-1.3M33.3 152.78h-2.2M33.3 149.62h-1.3M33.3 146.45h-1.3M33.3 143.29h-1.3M33.3 140.12h-1.3M33.3 136.96h-2.2" stroke="#2b2b2b" stroke-width="0.6" fill="none"/>
<text x="29.4" y="170.76" font-size="6.3" textLength="6.68" lengthAdjust="spacingAndGlyphs" text-anchor="end">65</text>
<text x="29.4" y="154.93" font-size="6.3" textLength="6.68" lengthAdjust="spacingAndGlyphs" text-anchor="end">70</text>
<text x="29.4" y="139.11" font-size="6.3" textLength="6.68" lengthAdjust="spacingAndGlyphs" text-anchor="end">75</text>
<rect x="33.3" y="136.64" width="133.2" height="44" fill="none" stroke="#2b2b2b" stroke-width="0.8"/>
<text transform="translate(159.43,143.26) scale(1.08,1)" font-size="8.2">c</text>
<path d="M203.28 136.64V180.64M221.04 136.64V180.64M238.8 136.64V180.64M256.56 136.64V180.64M274.32 136.64V180.64M292.08 136.64V180.64M309.84 136.64V180.64M327.6 136.64V180.64M194.4 168.61H327.6M194.4 152.78H327.6M194.4 136.96H327.6" stroke="#e3e3e3" stroke-width="0.8" fill="none"/>
<clipPath id="cp21"><rect x="194.4" y="136.64" width="133.2" height="44"/></clipPath>
<polyline points="193.96,145.72 194.67,143.04 195.38,141.03 196,139.02 196.71,142.37 197.33,145.72 198.04,145.05 198.66,147.06 199.37,145.72 199.99,148.4 200.44,152.42 200.97,147.06 201.5,144.38 202.04,146.39 202.75,145.05 203.37,143.04 204.08,145.72 204.7,148.4 205.41,149.74 206.03,155.1 206.74,152.42 207.36,148.4 208.08,144.38 208.7,146.39 209.41,147.73 210.12,149.07 210.74,147.73 211.45,147.06 212.07,146.39 212.78,145.72 213.4,146.39 214.11,145.05 214.74,145.72 215.45,146.39 216.07,148.4 216.78,149.74 217.49,147.73 218.11,144.38 218.82,143.71 219.44,145.05 220.15,147.73 220.77,148.4 221.48,147.06 222.11,146.39 222.82,145.72 223.44,143.04 224.15,142.37 224.86,141.03 225.48,144.38 226.19,149.74 226.81,152.42 227.52,155.77 228.14,148.4 228.59,144.38 229.12,149.74 229.74,153.76 230.19,148.4 230.81,145.72 231.52,144.38 232.23,153.76 232.85,153.09 233.56,151.08 234.18,150.41 234.89,149.07 235.51,147.73 236.22,145.72 236.85,146.39 237.56,143.04 238.18,145.05 238.89,149.74 239.6,153.09 240.22,151.08 240.93,147.73 241.55,146.39 242.26,149.07 242.88,149.74 243.6,148.4 244.22,149.07 244.93,150.41 245.55,151.08 246.26,149.74 246.97,154.43 247.59,149.74 248.3,145.05 248.92,145.72 249.63,148.4 250.26,149.07 250.97,147.73 251.59,149.74 252.3,151.08 252.92,151.75 253.63,152.42 254.34,153.09 254.96,153.76 255.67,152.42 256.29,148.4 257,145.72 257.63,147.73 258.34,148.4 258.96,147.06 259.67,149.07 260.29,149.74 260.82,148.4 261.18,148.4 261.71,149.07 262.33,151.08 263.04,153.09 263.66,149.74 264.37,151.08 265,152.42 265.71,150.41 266.33,151.08 267.04,153.09 267.66,149.74 268.37,147.73 269.08,150.41 269.7,146.39 270.41,153.76 271.03,155.77 271.74,151.08 272.37,151.75 273.08,151.08 273.7,153.09 274.41,152.42 275.03,151.75 275.74,149.74 276.45,148.4 277.07,147.06 277.78,148.4 278.4,151.75 279.12,150.41 279.74,151.08 280.45,153.76 281.07,155.77 281.78,151.08 282.4,148.4 283.11,147.73 283.82,149.74 284.44,149.07 285.15,148.4 285.78,149.74 286.49,151.08 287.11,150.41 287.82,148.4 288.44,146.39 289.15,148.4 289.77,150.41 290.48,151.08 291.19,150.41 291.81,151.75 292.52,152.42 293.15,151.08 293.86,152.42 294.48,149.74 295.19,144.38 295.81,147.73 296.52,153.09 297.14,155.1 297.85,157.11 298.56,154.43 299.18,151.08 299.89,149.07 300.52,149.74 301.23,150.41 301.85,148.4 302.56,149.07 303.18,147.06 303.89,149.74 304.51,152.42 305.22,154.43 305.93,153.09 306.55,151.75 307.26,153.09 307.89,153.76 308.6,154.43 309.22,155.77 309.93,154.43 310.55,153.09 311.26,151.75 311.88,157.11 312.59,159.12 313.3,155.1 313.92,153.76 314.64,157.11 315.26,158.45 315.97,155.1 316.59,150.41 317.3,153.76 317.92,157.11 318.63,158.45 319.25,155.77 319.96,153.76 320.67,151.08 321.3,150.41 322.01,148.4 322.63,152.42 323.34,157.11 323.96,157.78 324.67,158.45 325.29,159.12 326,159.79 326.62,160.46 327.33,161.13 328.04,161.8" fill="none" stroke="#4f9497" stroke-width="0.9" stroke-linejoin="round" clip-path="url(#cp21)"/>
<text x="203.28" y="188.84" font-size="6.3" textLength="13.36" lengthAdjust="spacingAndGlyphs" text-anchor="middle">1960</text>
<text x="221.04" y="188.84" font-size="6.3" textLength="13.36" lengthAdjust="spacingAndGlyphs" text-anchor="middle">1980</text>
<text x="238.8" y="188.84" font-size="6.3" textLength="13.36" lengthAdjust="spacingAndGlyphs" text-anchor="middle">2000</text>
<text x="256.56" y="188.84" font-size="6.3" textLength="13.36" lengthAdjust="spacingAndGlyphs" text-anchor="middle">2020</text>
<text x="274.32" y="188.84" font-size="6.3" textLength="13.36" lengthAdjust="spacingAndGlyphs" text-anchor="middle">2040</text>
<text x="292.08" y="188.84" font-size="6.3" textLength="13.36" lengthAdjust="spacingAndGlyphs" text-anchor="middle">2060</text>
<text x="309.84" y="188.84" font-size="6.3" textLength="13.36" lengthAdjust="spacingAndGlyphs" text-anchor="middle">2080</text>
<text x="327.6" y="188.84" font-size="6.3" textLength="13.36" lengthAdjust="spacingAndGlyphs" text-anchor="middle">2100</text>
<path d="M194.4 180.64v1.3M198.84 180.64v1.3M203.28 180.64v2.2M207.72 180.64v1.3M212.16 180.64v1.3M216.6 180.64v1.3M221.04 180.64v2.2M225.48 180.64v1.3M229.92 180.64v1.3M234.36 180.64v1.3M238.8 180.64v2.2M243.24 180.64v1.3M247.68 180.64v1.3M252.12 180.64v1.3M256.56 180.64v2.2M261 180.64v1.3M265.44 180.64v1.3M269.88 180.64v1.3M274.32 180.64v2.2M278.76 180.64v1.3M283.2 180.64v1.3M287.64 180.64v1.3M292.08 180.64v2.2M296.52 180.64v1.3M300.96 180.64v1.3M305.4 180.64v1.3M309.84 180.64v2.2M314.28 180.64v1.3M318.72 180.64v1.3M323.16 180.64v1.3M327.6 180.64v2.2M194.4 178.11h-1.3M194.4 174.94h-1.3M194.4 171.78h-1.3M194.4 168.61h-2.2M194.4 165.45h-1.3M194.4 162.28h-1.3M194.4 159.11h-1.3M194.4 155.95h-1.3M194.4 152.78h-2.2M194.4 149.62h-1.3M194.4 146.45h-1.3M194.4 143.29h-1.3M194.4 140.12h-1.3M194.4 136.96h-2.2" stroke="#2b2b2b" stroke-width="0.6" fill="none"/>
<text x="190.5" y="170.76" font-size="6.3" textLength="6.68" lengthAdjust="spacingAndGlyphs" text-anchor="end">65</text>
<text x="190.5" y="154.93" font-size="6.3" textLength="6.68" lengthAdjust="spacingAndGlyphs" text-anchor="end">70</text>
<text x="190.5" y="139.11" font-size="6.3" textLength="6.68" lengthAdjust="spacingAndGlyphs" text-anchor="end">75</text>
<rect x="194.4" y="136.64" width="133.2" height="44" fill="none" stroke="#2b2b2b" stroke-width="0.8"/>
<text transform="translate(320.41,144.94) scale(1.08,1)" font-size="8.2">k</text>
<path d="M364.38 136.64V180.64M382.14 136.64V180.64M399.9 136.64V180.64M417.66 136.64V180.64M435.42 136.64V180.64M453.18 136.64V180.64M470.94 136.64V180.64M488.7 136.64V180.64M355.5 168.61H488.7M355.5 152.78H488.7M355.5 136.96H488.7" stroke="#e3e3e3" stroke-width="0.8" fill="none"/>
<clipPath id="cp22"><rect x="355.5" y="136.64" width="133.2" height="44"/></clipPath>
<polyline points="355.5,148.36 355.94,147.9 356.39,147.44 356.83,146.98 357.28,144.21 357.81,141.45 358.25,141.91 358.7,143.29 359.14,142.37 359.58,143.76 360.03,144.68 360.56,145.14 361.01,143.29 361.45,141.91 361.89,143.76 362.34,146.52 362.87,147.9 363.31,148.36 363.76,148.82 364.2,149.28 364.65,150.21 365.18,151.13 365.62,150.67 366.07,148.82 366.51,143.76 366.96,140.53 367.4,139.61 367.93,140.99 368.38,144.21 368.82,146.52 369.26,148.82 369.71,151.13 370.24,153.43 370.68,154.81 371.13,155.28 371.57,153.89 372.02,152.51 372.55,154.35 372.99,155.73 373.44,156.2 373.88,156.38 374.33,156.2 374.77,156.66 375.3,157.12 375.75,158.5 376.19,159.42 376.63,160.81 377.08,161.26 377.61,162.65 378.06,164.49 378.5,165.87 378.94,164.95 379.39,163.57 379.92,160.81 380.36,156.2 380.81,152.97 381.25,151.59 381.7,151.13 382.23,148.82 382.67,147.9 383.12,148.82 383.56,149.75 384,153.43 384.45,157.58 384.98,155.73 385.43,151.59 385.87,150.21 386.31,149.28 386.76,150.67 387.29,153.43 387.73,152.05 388.18,149.75 388.62,149.28 389.07,150.21 389.6,151.13 390.04,152.05 390.49,150.67 390.93,149.28 391.38,151.13 391.82,156.2 392.35,154.35 392.8,152.51 393.24,151.13 393.68,150.21 394.13,147.9 394.66,147.44 395.1,149.75 395.55,151.13 395.99,150.67 396.44,150.21 396.97,149.75 397.41,149.28 397.86,150.21 398.3,150.67 398.75,156.2 399.72,163.6 400.34,158.1 400.88,154.8 401.41,154.25 401.94,155.35 402.48,158.65 403.01,163.6 403.63,167.45 404.16,161.4 404.7,155.9 405.23,154.25 405.76,156.45 406.38,160.3 406.92,158.65 407.45,155.9 407.98,157 408.51,158.1 409.14,155.35 409.67,154.25 410.2,156.45 410.73,158.1 411.27,159.2 411.89,163.05 412.42,165.25 412.95,161.95 413.49,160.3 414.02,161.4 414.64,159.2 415.17,158.1 415.71,158.65 416.24,158.65 416.77,158.32 417.39,157 417.93,155.35 418.46,154.25 418.99,155.35 419.52,157 420.06,158.65 420.68,159.75" fill="none" stroke="#de3430" stroke-width="0.9" stroke-linejoin="round" clip-path="url(#cp22)"/>
<text x="364.38" y="188.84" font-size="6.3" textLength="13.36" lengthAdjust="spacingAndGlyphs" text-anchor="middle">1960</text>
<text x="382.14" y="188.84" font-size="6.3" textLength="13.36" lengthAdjust="spacingAndGlyphs" text-anchor="middle">1980</text>
<text x="399.9" y="188.84" font-size="6.3" textLength="13.36" lengthAdjust="spacingAndGlyphs" text-anchor="middle">2000</text>
<text x="417.66" y="188.84" font-size="6.3" textLength="13.36" lengthAdjust="spacingAndGlyphs" text-anchor="middle">2020</text>
<text x="435.42" y="188.84" font-size="6.3" textLength="13.36" lengthAdjust="spacingAndGlyphs" text-anchor="middle">2040</text>
<text x="453.18" y="188.84" font-size="6.3" textLength="13.36" lengthAdjust="spacingAndGlyphs" text-anchor="middle">2060</text>
<text x="470.94" y="188.84" font-size="6.3" textLength="13.36" lengthAdjust="spacingAndGlyphs" text-anchor="middle">2080</text>
<text x="488.7" y="188.84" font-size="6.3" textLength="13.36" lengthAdjust="spacingAndGlyphs" text-anchor="middle">2100</text>
<path d="M355.5 180.64v1.3M359.94 180.64v1.3M364.38 180.64v2.2M368.82 180.64v1.3M373.26 180.64v1.3M377.7 180.64v1.3M382.14 180.64v2.2M386.58 180.64v1.3M391.02 180.64v1.3M395.46 180.64v1.3M399.9 180.64v2.2M404.34 180.64v1.3M408.78 180.64v1.3M413.22 180.64v1.3M417.66 180.64v2.2M422.1 180.64v1.3M426.54 180.64v1.3M430.98 180.64v1.3M435.42 180.64v2.2M439.86 180.64v1.3M444.3 180.64v1.3M448.74 180.64v1.3M453.18 180.64v2.2M457.62 180.64v1.3M462.06 180.64v1.3M466.5 180.64v1.3M470.94 180.64v2.2M475.38 180.64v1.3M479.82 180.64v1.3M484.26 180.64v1.3M488.7 180.64v2.2M355.5 178.11h-1.3M355.5 174.94h-1.3M355.5 171.78h-1.3M355.5 168.61h-2.2M355.5 165.45h-1.3M355.5 162.28h-1.3M355.5 159.11h-1.3M355.5 155.95h-1.3M355.5 152.78h-2.2M355.5 149.62h-1.3M355.5 146.45h-1.3M355.5 143.29h-1.3M355.5 140.12h-1.3M355.5 136.96h-2.2" stroke="#2b2b2b" stroke-width="0.6" fill="none"/>
<text x="351.6" y="170.76" font-size="6.3" textLength="6.68" lengthAdjust="spacingAndGlyphs" text-anchor="end">65</text>
<text x="351.6" y="154.93" font-size="6.3" textLength="6.68" lengthAdjust="spacingAndGlyphs" text-anchor="end">70</text>
<text x="351.6" y="139.11" font-size="6.3" textLength="6.68" lengthAdjust="spacingAndGlyphs" text-anchor="end">75</text>
<rect x="355.5" y="136.64" width="133.2" height="44" fill="none" stroke="#2b2b2b" stroke-width="0.8"/>
<text transform="translate(357.55,177.6) scale(1.08,1)" font-size="8.2">s</text>
<rect x="452.6" y="139.34" width="32.7" height="9.6" rx="1.3" fill="#fff" fill-opacity="0.8" stroke="#d6d6d6" stroke-width="0.6"/>
<line x1="454.3" y1="143.84" x2="465.5" y2="143.84" stroke="#de3430" stroke-width="0.9"/>
<text x="469.8" y="145.94" font-size="6.3" textLength="13.42" lengthAdjust="spacingAndGlyphs">ERA5</text>
<text transform="translate(13.7,159.44) rotate(-90)" font-size="6.0" text-anchor="middle" textLength="43.7" lengthAdjust="spacingAndGlyphs">Low cloud cover</text>
<text transform="translate(19.6,158.04) rotate(-90)" font-size="6.0" text-anchor="middle" textLength="9.34" lengthAdjust="spacingAndGlyphs">(%)</text>
<path d="M42.18 198.26V242.26M59.94 198.26V242.26M77.7 198.26V242.26M95.46 198.26V242.26M113.22 198.26V242.26M130.98 198.26V242.26M148.74 198.26V242.26M166.5 198.26V242.26M33.3 232.81H166.5M33.3 216.51H166.5M33.3 200.22H166.5" stroke="#e3e3e3" stroke-width="0.8" fill="none"/>
<clipPath id="cp30"><rect x="33.3" y="198.26" width="133.2" height="44"/></clipPath>
<polyline points="33.03,217.77 34.1,219.78 34.99,221.79 35.96,221.12 36.76,225.14 37.56,224.47 38.36,221.79 39.43,223.13 40.4,224.47 41.29,221.79 42.09,219.11 43.07,217.1 43.69,215.49 44.76,214.69 45.47,215.76 46,219.11 46.44,222.46 47.24,223.13 48.04,221.79 48.84,223.13 49.64,222.46 50.17,219.11 50.7,216.43 51.5,218.44 52.13,220.45 52.84,221.79 53.37,218.44 54.17,221.12 54.88,219.11 55.77,220.45 56.57,219.11 57.36,218.17 57.9,221.12 58.7,223.13 59.5,222.46 60.21,223.13 60.74,218.44 61.45,217.1 62.07,216.43 62.6,210.4 63.31,212.41 63.85,217.1 64.47,215.76 65.18,213.08 65.8,215.76 66.51,217.1 67.31,219.11 68.11,221.12 68.82,215.76 69.44,214.42 70.15,219.11 70.77,221.79 71.48,220.45 72.11,217.1 72.9,215.76 73.62,216.83 74.5,216.43 75.57,217.1 76.55,216.83 77.26,219.51 77.88,221.12 78.59,217.77 79.39,215.76 80.19,213.75 80.99,214.42 81.61,216.43 82.32,217.1 82.94,213.08 83.65,211.74 84.36,211.07 84.98,213.75 85.69,217.1 86.31,219.78 87.02,217.1 87.65,214.42 88.36,210.67 88.98,215.76 89.69,218.44 90.31,214.42 91.02,213.75 91.73,216.43 92.35,217.77 93.06,217.1 93.68,215.76 94.39,216.43 95.02,219.11 95.73,225.14 96.35,223.13 97.06,217.1 97.68,219.78 98.39,223.13 99.37,221.79 99.9,222.46 100.17,222.46 100.7,219.78 101.59,216.43 102.39,215.09 103.36,217.1 104.25,218.44 105.05,220.45 105.67,217.1 106.29,224.47 107,215.76 107.8,212.41 108.69,213.75 109.67,214.42 110.47,216.43 111.09,213.08 111.8,209.06 112.42,207.05 113.13,210.4 113.84,211.74 114.46,209.06 115.44,210.4 116.06,211.74 116.77,209.73 117.39,211.74 118.1,212.41 118.73,213.75 119.44,211.74 120.06,213.08 120.77,213.75 121.48,213.75 122.1,211.74 122.81,210.4 123.7,207.72 124.5,203.7 125.21,206.38 126.1,210.4 126.81,211.74 127.43,213.75 128.14,210.4 128.85,207.05 129.74,205.71 130.54,209.06 131.25,208.39 132.13,210.4 132.84,209.73 133.47,211.07 134.18,210.4 134.8,211.74 135.51,212.41 136.49,211.07 137.28,208.39 138.08,206.38 138.88,209.73 139.5,212.41 140.22,213.08 140.84,211.07 141.81,212.41 142.61,209.73 143.15,207.72 143.94,211.07 144.66,213.08 145.28,212.41 145.99,211.07 146.61,210.4 147.32,213.75 147.94,211.74 148.65,210.4 149.27,209.06 149.98,208.39 150.69,210.4 151.32,211.07 152.03,209.06 152.65,207.72 153.36,207.05 153.98,211.74 154.69,216.43 155.31,215.76 156.29,214.42 156.91,215.76 157.62,214.42 158.33,213.08 158.95,214.42 159.66,211.74 160.28,212.41 160.99,209.73 161.62,209.06 162.33,210.4 162.95,209.73 163.66,211.74 164.55,213.08 165.7,213.75 167.03,213.75" fill="none" stroke="#1f1f1f" stroke-width="0.9" stroke-linejoin="round" clip-path="url(#cp30)"/>
<text x="42.18" y="250.46" font-size="6.3" textLength="13.36" lengthAdjust="spacingAndGlyphs" text-anchor="middle">1960</text>
<text x="59.94" y="250.46" font-size="6.3" textLength="13.36" lengthAdjust="spacingAndGlyphs" text-anchor="middle">1980</text>
<text x="77.7" y="250.46" font-size="6.3" textLength="13.36" lengthAdjust="spacingAndGlyphs" text-anchor="middle">2000</text>
<text x="95.46" y="250.46" font-size="6.3" textLength="13.36" lengthAdjust="spacingAndGlyphs" text-anchor="middle">2020</text>
<text x="113.22" y="250.46" font-size="6.3" textLength="13.36" lengthAdjust="spacingAndGlyphs" text-anchor="middle">2040</text>
<text x="130.98" y="250.46" font-size="6.3" textLength="13.36" lengthAdjust="spacingAndGlyphs" text-anchor="middle">2060</text>
<text x="148.74" y="250.46" font-size="6.3" textLength="13.36" lengthAdjust="spacingAndGlyphs" text-anchor="middle">2080</text>
<text x="166.5" y="250.46" font-size="6.3" textLength="13.36" lengthAdjust="spacingAndGlyphs" text-anchor="middle">2100</text>
<path d="M33.3 242.26v1.3M37.74 242.26v1.3M42.18 242.26v2.2M46.62 242.26v1.3M51.06 242.26v1.3M55.5 242.26v1.3M59.94 242.26v2.2M64.38 242.26v1.3M68.82 242.26v1.3M73.26 242.26v1.3M77.7 242.26v2.2M82.14 242.26v1.3M86.58 242.26v1.3M91.02 242.26v1.3M95.46 242.26v2.2M99.9 242.26v1.3M104.34 242.26v1.3M108.78 242.26v1.3M113.22 242.26v2.2M117.66 242.26v1.3M122.1 242.26v1.3M126.54 242.26v1.3M130.98 242.26v2.2M135.42 242.26v1.3M139.86 242.26v1.3M144.3 242.26v1.3M148.74 242.26v2.2M153.18 242.26v1.3M157.62 242.26v1.3M162.06 242.26v1.3M166.5 242.26v2.2M33.3 239.33h-1.3M33.3 236.07h-1.3M33.3 232.81h-2.2M33.3 229.55h-1.3M33.3 226.29h-1.3M33.3 223.03h-1.3M33.3 219.77h-1.3M33.3 216.51h-2.2M33.3 213.25h-1.3M33.3 209.99h-1.3M33.3 206.73h-1.3M33.3 203.47h-1.3M33.3 200.22h-2.2" stroke="#2b2b2b" stroke-width="0.6" fill="none"/>
<text x="29.4" y="234.96" font-size="6.3" textLength="6.68" lengthAdjust="spacingAndGlyphs" text-anchor="end">40</text>
<text x="29.4" y="218.66" font-size="6.3" textLength="6.68" lengthAdjust="spacingAndGlyphs" text-anchor="end">45</text>
<text x="29.4" y="202.37" font-size="6.3" textLength="6.68" lengthAdjust="spacingAndGlyphs" text-anchor="end">50</text>
<rect x="33.3" y="198.26" width="133.2" height="44" fill="none" stroke="#2b2b2b" stroke-width="0.8"/>
<text transform="translate(159.43,207.04) scale(1.08,1)" font-size="8.2">d</text>
<path d="M203.28 198.26V242.26M221.04 198.26V242.26M238.8 198.26V242.26M256.56 198.26V242.26M274.32 198.26V242.26M292.08 198.26V242.26M309.84 198.26V242.26M327.6 198.26V242.26M194.4 232.81H327.6M194.4 216.51H327.6M194.4 200.22H327.6" stroke="#e3e3e3" stroke-width="0.8" fill="none"/>
<clipPath id="cp31"><rect x="194.4" y="198.26" width="133.2" height="44"/></clipPath>
<polyline points="193.96,209.73 194.67,213.08 195.38,214.42 196,211.74 196.71,207.72 197.33,206.38 198.04,209.73 198.66,213.08 199.37,217.1 199.99,211.74 200.7,207.72 201.33,206.38 202.04,205.71 202.75,207.72 203.37,210.4 204.08,213.75 204.7,210.4 205.41,208.39 206.03,209.06 206.74,208.39 207.36,207.72 208.08,210.4 208.7,211.74 209.41,207.72 210.12,203.7 210.47,202.36 211.01,207.72 211.72,212.41 212.34,209.73 213.05,207.72 213.67,206.38 214.38,208.39 215,210.4 215.71,209.73 216.42,211.74 217.04,212.41 217.75,214.42 218.38,219.11 218.82,214.42 219.44,210.4 220.15,209.06 220.77,211.74 221.48,213.75 222.11,210.4 222.82,209.73 223.44,210.4 224.15,209.73 224.86,211.74 225.48,214.42 226.19,206.38 226.72,203.03 227.26,207.05 227.88,208.39 228.59,207.72 229.21,207.05 229.92,209.06 230.54,207.72 231.25,209.73 231.96,211.07 232.58,210.4 233.29,208.39 233.92,204.37 234.45,200.35 235.16,207.72 235.78,209.06 236.49,206.38 237.11,205.04 237.82,207.05 238.44,209.06 239.16,211.74 239.87,213.75 240.49,218.44 241.2,214.42 241.82,211.74 242.53,209.73 243.15,207.05 243.86,205.71 244.48,209.06 245.19,210.4 245.82,215.76 246.53,217.1 247.24,217.77 247.86,216.43 248.57,210.4 249.19,207.72 249.9,207.05 250.52,205.71 251.23,207.05 251.85,208.39 252.56,209.06 253.19,210.4 253.9,211.07 254.61,210.4 255.23,209.73 255.94,211.07 256.56,207.05 257.27,207.72 257.89,209.06 258.6,208.39 259.22,207.72 259.93,207.05 260.56,206.65 260.82,207.05 261.18,207.05 261.71,209.06 262.33,210.4 263.04,208.39 263.66,207.05 264.37,209.06 265,210.4 265.71,209.73 266.33,211.07 267.04,212.41 267.66,213.08 268.37,214.42 269.08,213.75 269.7,211.74 270.41,214.42 271.03,217.77 271.74,215.76 272.37,213.08 273.08,210.4 273.7,211.74 274.41,217.1 275.03,214.42 275.74,211.74 276.45,208.39 277.07,207.72 277.78,210.4 278.4,216.43 279.12,210.4 279.74,207.72 280.45,208.39 281.07,209.73 281.78,211.07 282.4,209.06 283.11,207.72 283.82,208.39 284.44,210.4 285.15,209.06 285.78,207.72 286.49,209.73 287.11,208.39 287.82,207.05 288.44,206.38 289.15,209.06 289.77,213.08 290.48,216.43 291.19,211.74 291.81,209.73 292.52,210.4 293.15,206.38 293.86,208.39 294.48,210.4 295.19,209.73 295.81,211.07 296.52,209.06 297.14,210.4 297.85,212.41 298.56,209.06 299.18,207.05 299.89,209.73 300.52,214.42 301.23,215.76 301.85,213.08 302.56,210.4 303.18,206.38 303.89,203.7 304.51,202.36 305.22,206.38 305.93,210.4 306.55,215.76 307.26,213.08 307.89,211.74 308.6,210.4 309.22,209.73 309.93,211.74 310.55,209.06 311.26,208.39 311.88,210.4 312.59,211.74 313.3,213.08 313.92,211.74 314.64,209.73 315.26,207.05 315.97,207.72 316.59,209.73 317.3,212.41 317.92,213.08 318.63,211.07 319.25,216.43 319.96,211.74 320.67,209.06 321.3,212.41 322.01,213.08 322.63,211.07 323.34,211.74 323.96,210.4 324.67,209.06 325.29,212.41 326,210.4 326.62,208.39 327.33,209.73 328.04,211.74" fill="none" stroke="#4f9497" stroke-width="0.9" stroke-linejoin="round" clip-path="url(#cp31)"/>
<text x="203.28" y="250.46" font-size="6.3" textLength="13.36" lengthAdjust="spacingAndGlyphs" text-anchor="middle">1960</text>
<text x="221.04" y="250.46" font-size="6.3" textLength="13.36" lengthAdjust="spacingAndGlyphs" text-anchor="middle">1980</text>
<text x="238.8" y="250.46" font-size="6.3" textLength="13.36" lengthAdjust="spacingAndGlyphs" text-anchor="middle">2000</text>
<text x="256.56" y="250.46" font-size="6.3" textLength="13.36" lengthAdjust="spacingAndGlyphs" text-anchor="middle">2020</text>
<text x="274.32" y="250.46" font-size="6.3" textLength="13.36" lengthAdjust="spacingAndGlyphs" text-anchor="middle">2040</text>
<text x="292.08" y="250.46" font-size="6.3" textLength="13.36" lengthAdjust="spacingAndGlyphs" text-anchor="middle">2060</text>
<text x="309.84" y="250.46" font-size="6.3" textLength="13.36" lengthAdjust="spacingAndGlyphs" text-anchor="middle">2080</text>
<text x="327.6" y="250.46" font-size="6.3" textLength="13.36" lengthAdjust="spacingAndGlyphs" text-anchor="middle">2100</text>
<path d="M194.4 242.26v1.3M198.84 242.26v1.3M203.28 242.26v2.2M207.72 242.26v1.3M212.16 242.26v1.3M216.6 242.26v1.3M221.04 242.26v2.2M225.48 242.26v1.3M229.92 242.26v1.3M234.36 242.26v1.3M238.8 242.26v2.2M243.24 242.26v1.3M247.68 242.26v1.3M252.12 242.26v1.3M256.56 242.26v2.2M261 242.26v1.3M265.44 242.26v1.3M269.88 242.26v1.3M274.32 242.26v2.2M278.76 242.26v1.3M283.2 242.26v1.3M287.64 242.26v1.3M292.08 242.26v2.2M296.52 242.26v1.3M300.96 242.26v1.3M305.4 242.26v1.3M309.84 242.26v2.2M314.28 242.26v1.3M318.72 242.26v1.3M323.16 242.26v1.3M327.6 242.26v2.2M194.4 239.33h-1.3M194.4 236.07h-1.3M194.4 232.81h-2.2M194.4 229.55h-1.3M194.4 226.29h-1.3M194.4 223.03h-1.3M194.4 219.77h-1.3M194.4 216.51h-2.2M194.4 213.25h-1.3M194.4 209.99h-1.3M194.4 206.73h-1.3M194.4 203.47h-1.3M194.4 200.22h-2.2" stroke="#2b2b2b" stroke-width="0.6" fill="none"/>
<text x="190.5" y="234.96" font-size="6.3" textLength="6.68" lengthAdjust="spacingAndGlyphs" text-anchor="end">40</text>
<text x="190.5" y="218.66" font-size="6.3" textLength="6.68" lengthAdjust="spacingAndGlyphs" text-anchor="end">45</text>
<text x="190.5" y="202.37" font-size="6.3" textLength="6.68" lengthAdjust="spacingAndGlyphs" text-anchor="end">50</text>
<rect x="194.4" y="198.26" width="133.2" height="44" fill="none" stroke="#2b2b2b" stroke-width="0.8"/>
<text transform="translate(320.41,206.54) scale(1.08,1)" font-size="8.2">l</text>
<path d="M364.38 198.26V242.26M382.14 198.26V242.26M399.9 198.26V242.26M417.66 198.26V242.26M435.42 198.26V242.26M453.18 198.26V242.26M470.94 198.26V242.26M488.7 198.26V242.26M355.5 232.81H488.7M355.5 216.51H488.7M355.5 200.22H488.7" stroke="#e3e3e3" stroke-width="0.8" fill="none"/>
<clipPath id="cp32"><rect x="355.5" y="198.26" width="133.2" height="44"/></clipPath>
<polyline points="355.5,240.31 355.77,235.71 356.12,232.02 356.48,232.48 356.83,233.4 357.28,231.1 357.81,228.79 358.25,227.41 358.52,231.1 358.87,233.4 359.23,232.02 359.58,232.48 360.03,232.02 360.56,232.48 361.01,232.48 361.45,232.48 361.89,232.48 362.34,232.02 362.87,232.48 363.31,233.4 363.76,233.86 364.2,234.32 364.65,233.4 365.18,232.02 365.62,235.71 366.07,230.18 366.51,228.33 366.96,229.72 367.4,231.1 367.93,231.56 368.38,232.48 368.82,233.4 369.26,234.32 369.71,233.86 370.24,232.48 370.68,233.4 371.13,234.32 371.57,232.48 372.02,231.56 372.55,232.94 372.99,238.01 373.44,241.24 373.88,239.85 374.33,237.09 374.77,236.17 375.3,234.78 375.75,232.94 376.19,231.56 376.63,229.72 377.08,227.87 377.61,227.41 378.06,229.26 378.5,230.18 378.94,231.56 379.39,232.94 379.92,232.48 380.36,230.64 380.81,227.41 381.25,225.11 381.7,223.72 382.23,223.72 382.67,223.54 383.12,224.19 383.56,224.65 384,226.49 384.45,228.79 384.98,228.33 385.43,226.03 385.87,225.11 386.31,224.65 386.76,226.49 387.29,227.41 387.73,226.03 388.18,224.65 388.62,224.19 389.07,225.57 389.6,226.03 390.04,220.96 390.49,220.5 390.93,221.88 391.38,224.65 391.82,225.57 392.26,225.11 392.8,224.19 393.24,221.88 393.68,220.5 394.13,220.5 394.57,220.96 395.1,220.5 395.55,221.42 395.99,223.27 396.44,225.57 396.88,226.49 397.41,224.65 397.86,223.27 398.3,223.72 398.75,224.19 399.19,227.87 399.46,232.02 399.9,226.49 400.17,222.81 400.43,219.58 400.79,223.72 401.05,227.41 401.5,226.95 401.94,227.41 402.48,228.33 402.92,229.26 403.36,230.18 403.81,226.49 404.25,224.65 404.78,223.72 405.23,223.27 405.67,222.81 406.12,224.19 406.56,224.65 407.09,223.72 407.54,223.27 407.98,224.19 408.42,226.03 408.87,225.57 409.31,224.19 409.85,222.81 410.29,223.27 410.73,222.34 411.18,221.88 411.62,222.07 412.15,220.96 412.6,220.04 413.04,219.86 413.49,220.5 413.93,221.42 414.46,221.88 414.91,222.81 415.35,224.65 415.8,226.49 416.24,228.79 416.68,227.87 417.22,225.11 417.66,223.72 418.1,224.19 418.55,223.27 418.99,223.72 419.52,223.27 419.97,222.81 420.41,222.34" fill="none" stroke="#de3430" stroke-width="0.9" stroke-linejoin="round" clip-path="url(#cp32)"/>
<text x="364.38" y="250.46" font-size="6.3" textLength="13.36" lengthAdjust="spacingAndGlyphs" text-anchor="middle">1960</text>
<text x="382.14" y="250.46" font-size="6.3" textLength="13.36" lengthAdjust="spacingAndGlyphs" text-anchor="middle">1980</text>
<text x="399.9" y="250.46" font-size="6.3" textLength="13.36" lengthAdjust="spacingAndGlyphs" text-anchor="middle">2000</text>
<text x="417.66" y="250.46" font-size="6.3" textLength="13.36" lengthAdjust="spacingAndGlyphs" text-anchor="middle">2020</text>
<text x="435.42" y="250.46" font-size="6.3" textLength="13.36" lengthAdjust="spacingAndGlyphs" text-anchor="middle">2040</text>
<text x="453.18" y="250.46" font-size="6.3" textLength="13.36" lengthAdjust="spacingAndGlyphs" text-anchor="middle">2060</text>
<text x="470.94" y="250.46" font-size="6.3" textLength="13.36" lengthAdjust="spacingAndGlyphs" text-anchor="middle">2080</text>
<text x="488.7" y="250.46" font-size="6.3" textLength="13.36" lengthAdjust="spacingAndGlyphs" text-anchor="middle">2100</text>
<path d="M355.5 242.26v1.3M359.94 242.26v1.3M364.38 242.26v2.2M368.82 242.26v1.3M373.26 242.26v1.3M377.7 242.26v1.3M382.14 242.26v2.2M386.58 242.26v1.3M391.02 242.26v1.3M395.46 242.26v1.3M399.9 242.26v2.2M404.34 242.26v1.3M408.78 242.26v1.3M413.22 242.26v1.3M417.66 242.26v2.2M422.1 242.26v1.3M426.54 242.26v1.3M430.98 242.26v1.3M435.42 242.26v2.2M439.86 242.26v1.3M444.3 242.26v1.3M448.74 242.26v1.3M453.18 242.26v2.2M457.62 242.26v1.3M462.06 242.26v1.3M466.5 242.26v1.3M470.94 242.26v2.2M475.38 242.26v1.3M479.82 242.26v1.3M484.26 242.26v1.3M488.7 242.26v2.2M355.5 239.33h-1.3M355.5 236.07h-1.3M355.5 232.81h-2.2M355.5 229.55h-1.3M355.5 226.29h-1.3M355.5 223.03h-1.3M355.5 219.77h-1.3M355.5 216.51h-2.2M355.5 213.25h-1.3M355.5 209.99h-1.3M355.5 206.73h-1.3M355.5 203.47h-1.3M355.5 200.22h-2.2" stroke="#2b2b2b" stroke-width="0.6" fill="none"/>
<text x="351.6" y="234.96" font-size="6.3" textLength="6.68" lengthAdjust="spacingAndGlyphs" text-anchor="end">40</text>
<text x="351.6" y="218.66" font-size="6.3" textLength="6.68" lengthAdjust="spacingAndGlyphs" text-anchor="end">45</text>
<text x="351.6" y="202.37" font-size="6.3" textLength="6.68" lengthAdjust="spacingAndGlyphs" text-anchor="end">50</text>
<rect x="355.5" y="198.26" width="133.2" height="44" fill="none" stroke="#2b2b2b" stroke-width="0.8"/>
<text transform="translate(357.87,206.5) scale(1.08,1)" font-size="8.2">t</text>
<rect x="452.6" y="200.96" width="32.7" height="9.6" rx="1.3" fill="#fff" fill-opacity="0.8" stroke="#d6d6d6" stroke-width="0.6"/>
<line x1="454.3" y1="205.46" x2="465.5" y2="205.46" stroke="#de3430" stroke-width="0.9"/>
<text x="469.8" y="207.56" font-size="6.3" textLength="13.42" lengthAdjust="spacingAndGlyphs">ERA5</text>
<text transform="translate(13.7,221.06) rotate(-90)" font-size="6.0" text-anchor="middle" textLength="54.66" lengthAdjust="spacingAndGlyphs">Medium cloud cover</text>
<text transform="translate(19.6,219.66) rotate(-90)" font-size="6.0" text-anchor="middle" textLength="9.34" lengthAdjust="spacingAndGlyphs">(%)</text>
<path d="M42.18 259.88V303.88M59.94 259.88V303.88M77.7 259.88V303.88M95.46 259.88V303.88M113.22 259.88V303.88M130.98 259.88V303.88M148.74 259.88V303.88M166.5 259.88V303.88M33.3 290.34H166.5M33.3 273.11H166.5" stroke="#e3e3e3" stroke-width="0.8" fill="none"/>
<clipPath id="cp40"><rect x="33.3" y="259.88" width="133.2" height="44"/></clipPath>
<polyline points="33.03,271.06 33.66,268.38 34.37,264.36 34.99,262.35 35.7,261.68 36.32,262.35 37.03,264.36 37.65,267.71 38.36,269.72 39.34,269.99 40.4,269.72 41.29,269.05 42.09,267.04 42.8,266.37 43.42,267.71 44.22,269.72 45.02,270.39 46,271.06 46.71,271.73 47.24,268.38 47.77,265.7 48.4,267.71 49.11,271.06 49.73,272.4 50.44,273.74 51.06,276.42 51.77,279.1 52.39,277.76 53.1,273.74 53.81,273.07 54.43,276.42 55.14,275.75 55.77,275.08 56.48,275.75 57.1,273.74 57.81,269.72 58.43,266.37 59.14,268.38 59.76,271.73 60.47,273.74 61.18,278.43 61.8,285.13 62.52,290.49 63.14,294.51 64.11,297.19 64.91,297.86 65.53,296.52 66.24,292.5 66.87,286.47 67.58,279.1 68.2,275.08 68.91,273.74 69.62,273.74 70.51,271.06 71.48,270.39 72.28,271.06 72.9,275.75 73.62,280.44 74.24,285.13 74.95,287.81 75.57,288.48 76.28,285.8 76.99,279.1 77.61,275.75 78.59,275.75 79.48,277.09 80.54,277.76 81.52,278.43 82.58,279.77 83.21,280.44 83.92,285.13 84.63,283.79 85.25,279.1 86.05,275.08 86.85,274.41 87.65,276.42 88.44,281.11 89.24,281.78 90.04,282.45 90.93,283.12 91.55,281.78 92.26,273.07 93.06,269.72 93.95,269.05 94.93,271.06 95.46,268.38 95.99,269.72 96.79,272.4 97.59,271.73 98.39,268.38 99.19,267.04 99.9,267.71 100.17,267.71 100.7,268.11 101.32,270.39 102.03,272.4 102.65,275.08 103.36,272.4 103.98,270.39 104.7,271.06 105.32,274.41 106.03,279.1 106.74,283.79 107.36,285.13 108.07,283.79 108.69,286.47 109.4,287.81 110.02,287.14 110.73,291.83 111.36,296.52 112.07,299.87 112.69,302.55 113.4,297.86 114.11,298.53 114.73,297.19 115.44,293.84 116.06,290.49 116.77,287.81 117.39,282.45 118.1,286.47 118.73,291.83 119.44,291.16 120.06,293.84 120.77,295.18 121.48,293.84 122.1,295.85 122.81,295.18 123.43,296.52 124.14,299.87 124.76,295.85 125.47,295.18 126.1,297.19 126.81,294.51 127.43,285.8 128.14,291.83 128.85,293.17 129.47,294.51 130.18,295.85 130.8,293.17 131.51,291.83 132.13,291.83 132.84,291.16 133.47,289.15 134.18,285.8 134.8,287.81 135.51,292.5 136.22,294.51 136.84,292.5 137.55,290.49 138.17,287.14 138.88,283.79 139.5,291.16 140.22,293.17 140.84,291.83 141.55,289.82 142.17,291.16 142.88,289.15 143.59,290.49 144.21,291.16 144.92,289.15 145.54,288.48 146.25,289.82 146.88,284.46 147.59,288.48 148.21,285.13 148.92,287.14 149.54,292.5 150.25,294.51 150.96,291.83 151.58,287.14 152.29,285.13 152.91,283.79 153.62,283.12 154.25,285.13 154.96,287.14 155.58,288.48 156.29,289.15 156.91,287.81 157.62,288.48 158.33,287.14 158.95,286.47 159.66,286.47 160.28,284.46 160.99,282.45 161.62,280.44 162.33,282.45 162.95,287.14 163.66,290.49 164.28,289.82 164.99,287.14 165.7,283.79 166.32,281.78 167.03,281.11" fill="none" stroke="#1f1f1f" stroke-width="0.9" stroke-linejoin="round" clip-path="url(#cp40)"/>
<text x="42.18" y="312.08" font-size="6.3" textLength="13.36" lengthAdjust="spacingAndGlyphs" text-anchor="middle">1960</text>
<text x="59.94" y="312.08" font-size="6.3" textLength="13.36" lengthAdjust="spacingAndGlyphs" text-anchor="middle">1980</text>
<text x="77.7" y="312.08" font-size="6.3" textLength="13.36" lengthAdjust="spacingAndGlyphs" text-anchor="middle">2000</text>
<text x="95.46" y="312.08" font-size="6.3" textLength="13.36" lengthAdjust="spacingAndGlyphs" text-anchor="middle">2020</text>
<text x="113.22" y="312.08" font-size="6.3" textLength="13.36" lengthAdjust="spacingAndGlyphs" text-anchor="middle">2040</text>
<text x="130.98" y="312.08" font-size="6.3" textLength="13.36" lengthAdjust="spacingAndGlyphs" text-anchor="middle">2060</text>
<text x="148.74" y="312.08" font-size="6.3" textLength="13.36" lengthAdjust="spacingAndGlyphs" text-anchor="middle">2080</text>
<text x="166.5" y="312.08" font-size="6.3" textLength="13.36" lengthAdjust="spacingAndGlyphs" text-anchor="middle">2100</text>
<path d="M33.3 303.88v1.3M37.74 303.88v1.3M42.18 303.88v2.2M46.62 303.88v1.3M51.06 303.88v1.3M55.5 303.88v1.3M59.94 303.88v2.2M64.38 303.88v1.3M68.82 303.88v1.3M73.26 303.88v1.3M77.7 303.88v2.2M82.14 303.88v1.3M86.58 303.88v1.3M91.02 303.88v1.3M95.46 303.88v2.2M99.9 303.88v1.3M104.34 303.88v1.3M108.78 303.88v1.3M113.22 303.88v2.2M117.66 303.88v1.3M122.1 303.88v1.3M126.54 303.88v1.3M130.98 303.88v2.2M135.42 303.88v1.3M139.86 303.88v1.3M144.3 303.88v1.3M148.74 303.88v2.2M153.18 303.88v1.3M157.62 303.88v1.3M162.06 303.88v1.3M166.5 303.88v2.2M33.3 300.68h-1.3M33.3 297.23h-1.3M33.3 293.78h-1.3M33.3 290.34h-2.2M33.3 286.89h-1.3M33.3 283.45h-1.3M33.3 280h-1.3M33.3 276.56h-1.3M33.3 273.11h-2.2M33.3 269.67h-1.3M33.3 266.22h-1.3M33.3 262.77h-1.3" stroke="#2b2b2b" stroke-width="0.6" fill="none"/>
<text x="29.4" y="292.49" font-size="6.3" textLength="7.74" lengthAdjust="spacingAndGlyphs" text-anchor="end">−5</text>
<text x="29.4" y="275.26" font-size="6.3" textLength="3.34" lengthAdjust="spacingAndGlyphs" text-anchor="end">0</text>
<rect x="33.3" y="259.88" width="133.2" height="44" fill="none" stroke="#2b2b2b" stroke-width="0.8"/>
<text transform="translate(159.43,266.61) scale(1.08,1)" font-size="8.2">e</text>
<path d="M203.28 259.88V303.88M221.04 259.88V303.88M238.8 259.88V303.88M256.56 259.88V303.88M274.32 259.88V303.88M292.08 259.88V303.88M309.84 259.88V303.88M327.6 259.88V303.88M194.4 290.34H327.6M194.4 273.11H327.6" stroke="#e3e3e3" stroke-width="0.8" fill="none"/>
<clipPath id="cp41"><rect x="194.4" y="259.88" width="133.2" height="44"/></clipPath>
<polyline points="193.96,277.76 194.67,276.42 195.38,275.75 196,277.09 196.71,279.1 197.33,275.75 198.04,275.08 198.66,277.76 199.37,279.1 199.99,282.45 200.7,281.11 201.33,277.76 202.04,275.08 202.75,272.4 203.1,271.06 203.64,273.74 204.08,279.1 204.7,276.42 205.41,275.08 206.03,277.76 206.74,276.42 207.36,281.11 208.08,277.76 208.7,275.08 209.41,275.75 210.12,276.42 210.74,278.43 211.45,279.77 212.07,280.44 212.78,279.1 213.4,277.76 214.11,277.09 214.74,276.42 215.45,276.69 216.07,277.09 216.78,277.76 217.49,276.42 218.11,277.76 218.82,273.74 219.44,272.4 219.89,283.79 220.42,284.46 220.77,279.1 221.48,275.08 222.11,277.76 222.82,278.43 223.44,276.42 224.15,275.08 224.86,273.74 225.48,274.41 226.19,278.43 226.81,281.78 227.52,283.12 228.14,277.76 228.85,276.42 229.48,275.75 230.19,275.08 230.81,275.75 231.52,276.42 232.23,277.76 232.85,278.43 233.56,279.1 234.18,276.42 234.89,277.09 235.51,277.09 236.22,276.42 236.85,276.69 237.56,276.15 238.18,275.75 238.89,276.42 239.6,275.75 240.22,275.08 240.93,274.41 241.55,275.08 242.26,275.75 242.88,275.75 243.6,276.42 244.22,277.76 244.93,278.43 245.55,277.76 246.26,278.43 246.97,277.09 247.59,276.42 248.3,275.08 248.92,275.75 249.63,278.43 250.26,279.1 250.97,276.42 251.59,275.08 252.3,275.75 252.92,276.42 253.63,276.42 254.34,277.09 254.96,277.76 255.67,278.43 256.29,279.77 257,277.76 257.63,277.09 258.34,276.42 258.96,275.75 259.67,277.76 260.29,276.42 260.82,275.75 261.18,275.75 261.71,277.76 262.33,276.42 263.04,275.08 263.66,277.09 264.37,275.75 265,277.76 265.71,276.42 266.33,279.1 267.04,275.75 267.66,277.09 268.37,275.75 269.08,277.76 269.7,275.08 270.41,277.09 271.03,279.1 271.74,281.11 272.37,277.76 273.08,276.42 273.7,274.41 274.41,275.08 275.03,273.74 275.74,274.41 276.45,275.75 277.07,273.07 277.78,274.41 278.4,276.42 279.12,275.08 279.74,277.09 280.45,280.44 281.07,279.1 281.78,277.76 282.4,276.42 283.11,277.09 283.82,277.76 284.44,276.42 285.15,277.09 285.78,277.76 286.49,276.42 287.11,277.09 287.82,275.75 288.44,274.41 289.15,276.42 289.77,275.75 290.48,278.43 291.19,279.1 291.81,277.76 292.52,278.43 293.15,277.76 293.86,277.49 294.48,277.09 295.19,276.42 295.81,275.75 296.52,274.41 297.14,275.08 297.85,276.42 298.56,277.09 299.18,277.76 299.89,278.43 300.52,279.1 301.23,275.75 301.85,273.74 302.56,272.4 303.18,271.73 303.89,273.74 304.51,277.76 305.22,279.1 305.93,275.08 306.55,273.74 307.26,275.75 307.89,277.76 308.6,278.43 309.22,280.44 309.66,281.78 310.2,276.42 310.55,273.74 311.26,275.08 311.88,276.42 312.59,277.76 313.3,280.44 313.92,279.1 314.64,277.76 315.26,276.42 315.97,274.41 316.59,275.08 317.3,276.42 317.92,278.43 318.63,277.76 319.25,275.75 319.96,275.08 320.67,274.41 321.3,274.81 322.01,274.41 322.63,275.08 323.34,275.75 323.96,274.81 324.67,274.41 325.29,275.08 326,274.81 326.62,274.41 327.33,273.47 328.04,273.07" fill="none" stroke="#4f9497" stroke-width="0.9" stroke-linejoin="round" clip-path="url(#cp41)"/>
<text x="203.28" y="312.08" font-size="6.3" textLength="13.36" lengthAdjust="spacingAndGlyphs" text-anchor="middle">1960</text>
<text x="221.04" y="312.08" font-size="6.3" textLength="13.36" lengthAdjust="spacingAndGlyphs" text-anchor="middle">1980</text>
<text x="238.8" y="312.08" font-size="6.3" textLength="13.36" lengthAdjust="spacingAndGlyphs" text-anchor="middle">2000</text>
<text x="256.56" y="312.08" font-size="6.3" textLength="13.36" lengthAdjust="spacingAndGlyphs" text-anchor="middle">2020</text>
<text x="274.32" y="312.08" font-size="6.3" textLength="13.36" lengthAdjust="spacingAndGlyphs" text-anchor="middle">2040</text>
<text x="292.08" y="312.08" font-size="6.3" textLength="13.36" lengthAdjust="spacingAndGlyphs" text-anchor="middle">2060</text>
<text x="309.84" y="312.08" font-size="6.3" textLength="13.36" lengthAdjust="spacingAndGlyphs" text-anchor="middle">2080</text>
<text x="327.6" y="312.08" font-size="6.3" textLength="13.36" lengthAdjust="spacingAndGlyphs" text-anchor="middle">2100</text>
<path d="M194.4 303.88v1.3M198.84 303.88v1.3M203.28 303.88v2.2M207.72 303.88v1.3M212.16 303.88v1.3M216.6 303.88v1.3M221.04 303.88v2.2M225.48 303.88v1.3M229.92 303.88v1.3M234.36 303.88v1.3M238.8 303.88v2.2M243.24 303.88v1.3M247.68 303.88v1.3M252.12 303.88v1.3M256.56 303.88v2.2M261 303.88v1.3M265.44 303.88v1.3M269.88 303.88v1.3M274.32 303.88v2.2M278.76 303.88v1.3M283.2 303.88v1.3M287.64 303.88v1.3M292.08 303.88v2.2M296.52 303.88v1.3M300.96 303.88v1.3M305.4 303.88v1.3M309.84 303.88v2.2M314.28 303.88v1.3M318.72 303.88v1.3M323.16 303.88v1.3M327.6 303.88v2.2M194.4 300.68h-1.3M194.4 297.23h-1.3M194.4 293.78h-1.3M194.4 290.34h-2.2M194.4 286.89h-1.3M194.4 283.45h-1.3M194.4 280h-1.3M194.4 276.56h-1.3M194.4 273.11h-2.2M194.4 269.67h-1.3M194.4 266.22h-1.3M194.4 262.77h-1.3" stroke="#2b2b2b" stroke-width="0.6" fill="none"/>
<text x="190.5" y="292.49" font-size="6.3" textLength="7.74" lengthAdjust="spacingAndGlyphs" text-anchor="end">−5</text>
<text x="190.5" y="275.26" font-size="6.3" textLength="3.34" lengthAdjust="spacingAndGlyphs" text-anchor="end">0</text>
<rect x="194.4" y="259.88" width="133.2" height="44" fill="none" stroke="#2b2b2b" stroke-width="0.8"/>
<text transform="translate(318.22,266.81) scale(1.08,1)" font-size="8.2">m</text>
<path d="M364.38 259.88V303.88M382.14 259.88V303.88M399.9 259.88V303.88M417.66 259.88V303.88M435.42 259.88V303.88M453.18 259.88V303.88M470.94 259.88V303.88M488.7 259.88V303.88M355.5 290.34H488.7M355.5 273.11H488.7" stroke="#e3e3e3" stroke-width="0.8" fill="none"/>
<clipPath id="cp42"><rect x="355.5" y="259.88" width="133.2" height="44"/></clipPath>
<polyline points="355.5,276.51 355.94,275.59 356.39,275.13 356.83,276.05 357.28,275.13 357.81,274.66 358.25,274.21 358.7,272.83 359.14,271.44 359.58,271.9 360.03,273.28 360.56,273.74 361.01,272.83 361.45,274.21 361.89,275.13 362.34,276.05 362.87,272.83 363.31,270.52 363.76,271.44 364.2,272.83 364.65,271.9 365.18,272.36 365.62,273.28 366.07,273.74 366.51,275.13 366.96,276.51 367.4,277.43 367.93,276.05 368.38,274.66 368.82,273.74 369.26,273.28 369.71,272.83 370.24,272.36 370.68,271.9 371.13,270.98 371.57,270.52 372.02,271.44 372.55,272.36 372.99,273.28 373.44,274.66 373.88,275.13 374.33,275.59 374.77,274.21 375.3,270.98 375.57,268.21 375.84,270.06 376.19,274.66 376.63,281.12 377.08,283.88 377.61,285.73 378.06,287.11 378.5,288.95 378.94,287.57 379.39,282.96 379.92,277.43 380.36,274.21 380.81,273.28 381.25,273.74 381.7,275.59 382.23,276.05 382.67,276.51 383.12,276.05 383.56,276.51 384,277.43 384.45,277.89 384.98,276.51 385.43,275.13 385.87,275.59 386.31,274.66 386.76,273.28 387.29,272.83 387.73,275.59 388.18,276.97 388.62,273.74 389.07,271.9 389.6,270.52 390.04,270.52 390.49,270.98 390.93,271.44 391.38,270.98 391.82,270.52 392.26,270.98 392.8,271.9 393.24,273.28 393.68,273.74 394.13,271.9 394.57,269.6 395.1,268.68 395.55,269.14 395.99,270.98 396.44,275.13 396.88,276.97 397.41,277.43 397.86,276.97 398.3,277.43 398.75,276.05 399.19,273.74 399.63,271.9 400.17,270.06 400.61,270.98 401.05,272.36 401.5,269.14 401.94,266.83 402.48,266.37 402.92,267.29 403.36,269.14 403.81,272.83 404.25,274.21 404.78,272.36 405.23,272.83 405.67,270.52 406.12,268.21 406.56,265.91 407.09,266.37 407.54,267.76 407.98,266.37 408.42,265.45 408.87,268.21 409.31,272.83 409.85,270.52 410.29,268.21 410.73,266.83 411.18,265.91 411.62,265.45 412.15,264.99 412.6,266.37 413.04,267.76 413.49,269.6 413.93,270.98 414.46,276.97 414.91,275.59 415.35,273.74 415.8,272.83 416.24,272.36 416.68,271.44 417.22,270.52 417.66,270.06 418.1,269.14 418.55,269.6 418.99,270.06 419.52,269.14 419.97,268.68 420.41,268.21" fill="none" stroke="#de3430" stroke-width="0.9" stroke-linejoin="round" clip-path="url(#cp42)"/>
<text x="364.38" y="312.08" font-size="6.3" textLength="13.36" lengthAdjust="spacingAndGlyphs" text-anchor="middle">1960</text>
<text x="382.14" y="312.08" font-size="6.3" textLength="13.36" lengthAdjust="spacingAndGlyphs" text-anchor="middle">1980</text>
<text x="399.9" y="312.08" font-size="6.3" textLength="13.36" lengthAdjust="spacingAndGlyphs" text-anchor="middle">2000</text>
<text x="417.66" y="312.08" font-size="6.3" textLength="13.36" lengthAdjust="spacingAndGlyphs" text-anchor="middle">2020</text>
<text x="435.42" y="312.08" font-size="6.3" textLength="13.36" lengthAdjust="spacingAndGlyphs" text-anchor="middle">2040</text>
<text x="453.18" y="312.08" font-size="6.3" textLength="13.36" lengthAdjust="spacingAndGlyphs" text-anchor="middle">2060</text>
<text x="470.94" y="312.08" font-size="6.3" textLength="13.36" lengthAdjust="spacingAndGlyphs" text-anchor="middle">2080</text>
<text x="488.7" y="312.08" font-size="6.3" textLength="13.36" lengthAdjust="spacingAndGlyphs" text-anchor="middle">2100</text>
<path d="M355.5 303.88v1.3M359.94 303.88v1.3M364.38 303.88v2.2M368.82 303.88v1.3M373.26 303.88v1.3M377.7 303.88v1.3M382.14 303.88v2.2M386.58 303.88v1.3M391.02 303.88v1.3M395.46 303.88v1.3M399.9 303.88v2.2M404.34 303.88v1.3M408.78 303.88v1.3M413.22 303.88v1.3M417.66 303.88v2.2M422.1 303.88v1.3M426.54 303.88v1.3M430.98 303.88v1.3M435.42 303.88v2.2M439.86 303.88v1.3M444.3 303.88v1.3M448.74 303.88v1.3M453.18 303.88v2.2M457.62 303.88v1.3M462.06 303.88v1.3M466.5 303.88v1.3M470.94 303.88v2.2M475.38 303.88v1.3M479.82 303.88v1.3M484.26 303.88v1.3M488.7 303.88v2.2M355.5 300.68h-1.3M355.5 297.23h-1.3M355.5 293.78h-1.3M355.5 290.34h-2.2M355.5 286.89h-1.3M355.5 283.45h-1.3M355.5 280h-1.3M355.5 276.56h-1.3M355.5 273.11h-2.2M355.5 269.67h-1.3M355.5 266.22h-1.3M355.5 262.77h-1.3" stroke="#2b2b2b" stroke-width="0.6" fill="none"/>
<text x="351.6" y="292.49" font-size="6.3" textLength="7.74" lengthAdjust="spacingAndGlyphs" text-anchor="end">−5</text>
<text x="351.6" y="275.26" font-size="6.3" textLength="3.34" lengthAdjust="spacingAndGlyphs" text-anchor="end">0</text>
<rect x="355.5" y="259.88" width="133.2" height="44" fill="none" stroke="#2b2b2b" stroke-width="0.8"/>
<text transform="translate(357.32,266.83) scale(1.08,1)" font-size="8.2">u</text>
<rect x="452.6" y="262.58" width="32.7" height="9.6" rx="1.3" fill="#fff" fill-opacity="0.8" stroke="#d6d6d6" stroke-width="0.6"/>
<line x1="454.3" y1="267.08" x2="465.5" y2="267.08" stroke="#de3430" stroke-width="0.9"/>
<text x="469.8" y="269.18" font-size="6.3" textLength="13.42" lengthAdjust="spacingAndGlyphs">ERA5</text>
<text transform="translate(12.55,282.68) rotate(-90)" font-size="6.0" text-anchor="middle" textLength="48.36" lengthAdjust="spacingAndGlyphs">Sensible heat flux</text>
<text transform="translate(18.5,281.28) rotate(-90)" font-size="6.0" text-anchor="middle" textLength="20.07" lengthAdjust="spacingAndGlyphs">(W/m2)</text>
<path d="M42.18 321.5V365.5M59.94 321.5V365.5M77.7 321.5V365.5M95.46 321.5V365.5M113.22 321.5V365.5M130.98 321.5V365.5M148.74 321.5V365.5M166.5 321.5V365.5M33.3 360.53H166.5M33.3 348.41H166.5M33.3 336.29H166.5M33.3 324.17H166.5" stroke="#e3e3e3" stroke-width="0.8" fill="none"/>
<clipPath id="cp50"><rect x="33.3" y="321.5" width="133.2" height="44"/></clipPath>
<polyline points="33.03,331.05 33.66,327.7 34.37,325.69 34.99,324.75 35.7,325.02 36.32,325.69 37.03,327.03 37.65,328.37 38.36,330.38 39.34,329.71 40.4,328.37 41.29,329.04 42.09,329.31 42.8,330.38 43.42,331.72 44.13,333.06 44.76,331.05 45.73,330.38 46.71,329.71 47.33,327.7 48.04,329.04 48.66,331.05 49.37,331.72 50.17,333.73 50.79,335.07 51.5,337.08 52.13,336.41 52.84,333.06 53.55,331.72 54.17,333.06 54.88,334.4 55.5,335.07 56.21,335.74 56.83,335.74 57.54,332.39 58.16,329.71 58.87,330.38 59.5,332.39 60.47,334.4 61.18,338.42 61.8,343.78 62.52,348.47 63.14,351.82 64.11,353.16 64.91,352.89 65.53,351.15 66.24,346.46 66.87,341.1 67.58,336.41 68.2,334.4 69.18,334.13 70.15,333.06 70.95,332.39 71.84,331.05 72.55,330.11 73.17,334.4 73.88,339.09 74.5,344.45 75.21,347.13 75.92,345.79 76.55,341.1 77.26,337.75 77.88,336.41 78.85,336.41 79.92,337.75 80.81,338.42 81.61,339.76 82.58,340.43 83.21,342.44 83.92,345.12 84.63,343.78 85.25,339.09 86.05,336.41 86.85,337.08 87.65,339.09 88.44,341.1 89.24,342.44 90.04,343.11 90.93,343.11 91.55,337.08 92.26,333.73 93.06,333.06 93.95,333.73 94.93,333.06 95.46,331.72 96.26,331.72 97.06,331.05 97.95,330.65 98.66,329.71 99.37,329.31 99.9,329.04 100.17,329.04 100.7,331.05 101.32,333.73 102.03,335.07 102.65,335.74 103.36,334.4 103.98,333.06 104.7,333.73 105.32,336.41 106.03,340.43 106.74,344.45 107.36,345.79 108.07,345.12 108.69,347.13 109.4,347.8 110.02,348.47 110.73,353.16 111.36,357.18 112.07,361.2 112.69,362.54 113.4,360.53 114.11,360.53 114.73,359.86 115.44,357.18 116.06,353.16 116.77,349.81 117.39,349.14 118.1,351.15 118.73,353.83 119.44,355.84 120.06,357.18 120.77,357.18 121.48,358.52 122.1,359.19 122.81,361.2 123.43,363.21 124.14,363.88 124.76,362.54 125.47,361.2 126.1,361.87 126.81,360.53 127.43,358.52 128.14,360.53 128.85,361.87 129.47,361.2 130.18,361.2 130.8,360.93 131.51,360.53 132.13,360.13 132.84,359.86 133.47,359.19 134.18,358.25 134.8,358.52 135.51,359.86 136.22,361.2 136.84,360.53 137.55,359.86 138.17,359.19 138.88,361.2 139.5,362.54 140.22,361.87 140.84,360.53 141.55,359.59 142.17,359.86 142.88,360.53 143.59,359.86 144.21,359.59 144.92,359.19 145.54,357.85 146.25,356.91 146.88,357.18 147.59,359.19 147.94,363.21 148.47,359.86 148.92,358.52 149.54,359.19 150.25,360.53 150.96,358.52 151.58,359.86 152.29,359.19 152.91,358.52 153.62,358.25 154.25,359.19 154.96,359.86 155.58,359.86 156.29,358.52 156.91,357.85 157.62,358.25 158.33,357.85 158.95,357.45 159.66,357.85 160.28,355.84 160.99,353.83 161.62,354.5 162.33,357.18 162.95,359.19 163.66,360.53 164.28,358.52 164.99,357.85 165.7,356.91 166.32,355.84 167.03,356.11" fill="none" stroke="#1f1f1f" stroke-width="0.9" stroke-linejoin="round" clip-path="url(#cp50)"/>
<text x="42.18" y="373.7" font-size="6.3" textLength="13.36" lengthAdjust="spacingAndGlyphs" text-anchor="middle">1960</text>
<text x="59.94" y="373.7" font-size="6.3" textLength="13.36" lengthAdjust="spacingAndGlyphs" text-anchor="middle">1980</text>
<text x="77.7" y="373.7" font-size="6.3" textLength="13.36" lengthAdjust="spacingAndGlyphs" text-anchor="middle">2000</text>
<text x="95.46" y="373.7" font-size="6.3" textLength="13.36" lengthAdjust="spacingAndGlyphs" text-anchor="middle">2020</text>
<text x="113.22" y="373.7" font-size="6.3" textLength="13.36" lengthAdjust="spacingAndGlyphs" text-anchor="middle">2040</text>
<text x="130.98" y="373.7" font-size="6.3" textLength="13.36" lengthAdjust="spacingAndGlyphs" text-anchor="middle">2060</text>
<text x="148.74" y="373.7" font-size="6.3" textLength="13.36" lengthAdjust="spacingAndGlyphs" text-anchor="middle">2080</text>
<text x="166.5" y="373.7" font-size="6.3" textLength="13.36" lengthAdjust="spacingAndGlyphs" text-anchor="middle">2100</text>
<path d="M33.3 365.5v1.3M37.74 365.5v1.3M42.18 365.5v2.2M46.62 365.5v1.3M51.06 365.5v1.3M55.5 365.5v1.3M59.94 365.5v2.2M64.38 365.5v1.3M68.82 365.5v1.3M73.26 365.5v1.3M77.7 365.5v2.2M82.14 365.5v1.3M86.58 365.5v1.3M91.02 365.5v1.3M95.46 365.5v2.2M99.9 365.5v1.3M104.34 365.5v1.3M108.78 365.5v1.3M113.22 365.5v2.2M117.66 365.5v1.3M122.1 365.5v1.3M126.54 365.5v1.3M130.98 365.5v2.2M135.42 365.5v1.3M139.86 365.5v1.3M144.3 365.5v1.3M148.74 365.5v2.2M153.18 365.5v1.3M157.62 365.5v1.3M162.06 365.5v1.3M166.5 365.5v2.2M33.3 365.38h-1.3M33.3 362.95h-1.3M33.3 360.53h-2.2M33.3 358.11h-1.3M33.3 355.68h-1.3M33.3 353.26h-1.3M33.3 350.83h-1.3M33.3 348.41h-2.2M33.3 345.98h-1.3M33.3 343.56h-1.3M33.3 341.14h-1.3M33.3 338.71h-1.3M33.3 336.29h-2.2M33.3 333.86h-1.3M33.3 331.44h-1.3M33.3 329.02h-1.3M33.3 326.59h-1.3M33.3 324.17h-2.2M33.3 321.74h-1.3" stroke="#2b2b2b" stroke-width="0.6" fill="none"/>
<text x="29.4" y="362.68" font-size="6.3" textLength="11.08" lengthAdjust="spacingAndGlyphs" text-anchor="end">−25</text>
<text x="29.4" y="350.56" font-size="6.3" textLength="11.08" lengthAdjust="spacingAndGlyphs" text-anchor="end">−20</text>
<text x="29.4" y="338.44" font-size="6.3" textLength="11.08" lengthAdjust="spacingAndGlyphs" text-anchor="end">−15</text>
<text x="29.4" y="326.32" font-size="6.3" textLength="11.08" lengthAdjust="spacingAndGlyphs" text-anchor="end">−10</text>
<rect x="33.3" y="321.5" width="133.2" height="44" fill="none" stroke="#2b2b2b" stroke-width="0.8"/>
<text transform="translate(159.78,329.04) scale(1.08,1)" font-size="8.2">f</text>
<path d="M203.28 321.5V365.5M221.04 321.5V365.5M238.8 321.5V365.5M256.56 321.5V365.5M274.32 321.5V365.5M292.08 321.5V365.5M309.84 321.5V365.5M327.6 321.5V365.5M194.4 360.53H327.6M194.4 348.41H327.6M194.4 336.29H327.6M194.4 324.17H327.6" stroke="#e3e3e3" stroke-width="0.8" fill="none"/>
<clipPath id="cp51"><rect x="194.4" y="321.5" width="133.2" height="44"/></clipPath>
<polyline points="193.96,337.08 194.67,335.74 195.38,333.73 196,332.39 196.71,334.4 197.33,336.41 198.04,335.07 198.66,333.73 199.37,335.74 199.99,338.42 200.7,337.08 201.33,335.07 202.04,335.74 202.75,333.73 203.37,332.39 204.08,334.4 204.7,336.41 205.41,335.74 206.03,338.42 206.74,337.08 207.36,335.74 208.08,333.73 208.7,334.4 209.41,335.74 210.12,336.41 210.74,337.08 211.45,336.41 212.07,337.08 212.78,335.74 213.4,334.4 214.11,333.73 214.74,334.4 215.45,336.41 216.07,337.08 216.78,337.75 217.49,339.09 218.11,336.41 218.82,333.73 219.44,333.06 220.15,335.74 220.77,337.75 221.48,336.41 222.11,335.07 222.82,335.74 223.44,334.4 224.15,333.73 224.86,335.07 225.48,337.08 226.19,339.09 226.81,341.77 227.52,338.42 228.14,337.08 228.85,337.75 229.48,335.74 230.19,335.07 230.81,334.4 231.52,336.41 232.23,337.75 232.85,339.76 233.56,339.09 234.18,340.43 234.89,338.42 235.51,336.41 236.22,335.74 236.85,335.47 237.56,336.41 238.18,336.01 238.89,337.08 239.6,336.41 240.22,335.07 240.93,334.4 241.55,335.07 242.26,336.41 242.88,337.75 243.6,338.15 244.22,338.42 244.93,338.15 245.55,339.09 246.26,337.75 246.97,336.41 247.59,337.08 248.3,336.01 248.92,337.08 249.63,339.09 250.26,339.76 250.97,338.42 251.59,337.08 252.3,336.41 252.92,337.75 253.63,339.09 254.34,339.09 254.96,338.42 255.67,338.69 256.29,339.09 257,338.42 257.63,337.75 258.34,337.35 258.96,339.76 259.67,340.43 260.29,339.76 260.82,339.49 261.18,339.49 261.71,337.75 262.33,337.08 263.04,338.42 263.66,339.09 264.37,340.43 265,339.76 265.71,339.09 266.33,340.83 267.04,339.76 267.66,338.42 268.37,337.08 269.08,336.41 269.7,337.75 270.41,340.43 271.03,341.1 271.74,339.76 272.37,339.09 273.08,339.49 273.7,338.42 274.41,337.75 275.03,338.42 275.74,337.08 276.45,336.81 277.07,336.41 277.78,336.81 278.4,337.75 279.12,339.76 279.74,342.44 280.45,345.12 281.07,343.11 281.78,340.43 282.4,339.09 283.11,338.42 283.82,339.76 284.44,341.1 285.15,341.77 285.78,340.43 286.49,340.83 287.11,340.43 287.82,339.76 288.44,339.09 289.15,338.42 289.77,339.76 290.48,341.1 291.19,343.11 291.81,342.44 292.52,342.17 293.15,343.11 293.86,342.44 294.48,341.77 295.19,340.83 295.81,341.1 296.52,342.17 297.14,342.44 297.85,341.77 298.56,342.17 299.18,342.44 299.89,343.11 300.52,341.1 301.23,339.09 301.85,339.76 302.56,340.43 303.18,341.1 303.89,342.44 304.51,344.45 305.22,346.46 305.93,345.79 306.55,343.78 307.26,342.44 307.89,343.11 308.6,344.45 309.22,346.46 309.93,344.45 310.55,343.11 311.26,345.12 311.88,346.46 312.59,345.79 313.3,346.46 313.92,347.13 314.64,348.47 315.26,347.13 315.97,345.12 316.59,343.78 317.3,345.79 317.92,347.13 318.63,346.46 319.25,345.79 319.96,345.12 320.67,344.45 321.3,343.11 322.01,342.44 322.63,343.11 323.34,346.46 323.96,347.13 324.67,347.8 325.29,347.53 326,347.8 326.62,348.47 327.33,348.47 328.04,348.87" fill="none" stroke="#4f9497" stroke-width="0.9" stroke-linejoin="round" clip-path="url(#cp51)"/>
<text x="203.28" y="373.7" font-size="6.3" textLength="13.36" lengthAdjust="spacingAndGlyphs" text-anchor="middle">1960</text>
<text x="221.04" y="373.7" font-size="6.3" textLength="13.36" lengthAdjust="spacingAndGlyphs" text-anchor="middle">1980</text>
<text x="238.8" y="373.7" font-size="6.3" textLength="13.36" lengthAdjust="spacingAndGlyphs" text-anchor="middle">2000</text>
<text x="256.56" y="373.7" font-size="6.3" textLength="13.36" lengthAdjust="spacingAndGlyphs" text-anchor="middle">2020</text>
<text x="274.32" y="373.7" font-size="6.3" textLength="13.36" lengthAdjust="spacingAndGlyphs" text-anchor="middle">2040</text>
<text x="292.08" y="373.7" font-size="6.3" textLength="13.36" lengthAdjust="spacingAndGlyphs" text-anchor="middle">2060</text>
<text x="309.84" y="373.7" font-size="6.3" textLength="13.36" lengthAdjust="spacingAndGlyphs" text-anchor="middle">2080</text>
<text x="327.6" y="373.7" font-size="6.3" textLength="13.36" lengthAdjust="spacingAndGlyphs" text-anchor="middle">2100</text>
<path d="M194.4 365.5v1.3M198.84 365.5v1.3M203.28 365.5v2.2M207.72 365.5v1.3M212.16 365.5v1.3M216.6 365.5v1.3M221.04 365.5v2.2M225.48 365.5v1.3M229.92 365.5v1.3M234.36 365.5v1.3M238.8 365.5v2.2M243.24 365.5v1.3M247.68 365.5v1.3M252.12 365.5v1.3M256.56 365.5v2.2M261 365.5v1.3M265.44 365.5v1.3M269.88 365.5v1.3M274.32 365.5v2.2M278.76 365.5v1.3M283.2 365.5v1.3M287.64 365.5v1.3M292.08 365.5v2.2M296.52 365.5v1.3M300.96 365.5v1.3M305.4 365.5v1.3M309.84 365.5v2.2M314.28 365.5v1.3M318.72 365.5v1.3M323.16 365.5v1.3M327.6 365.5v2.2M194.4 365.38h-1.3M194.4 362.95h-1.3M194.4 360.53h-2.2M194.4 358.11h-1.3M194.4 355.68h-1.3M194.4 353.26h-1.3M194.4 350.83h-1.3M194.4 348.41h-2.2M194.4 345.98h-1.3M194.4 343.56h-1.3M194.4 341.14h-1.3M194.4 338.71h-1.3M194.4 336.29h-2.2M194.4 333.86h-1.3M194.4 331.44h-1.3M194.4 329.02h-1.3M194.4 326.59h-1.3M194.4 324.17h-2.2M194.4 321.74h-1.3" stroke="#2b2b2b" stroke-width="0.6" fill="none"/>
<text x="190.5" y="362.68" font-size="6.3" textLength="11.08" lengthAdjust="spacingAndGlyphs" text-anchor="end">−25</text>
<text x="190.5" y="350.56" font-size="6.3" textLength="11.08" lengthAdjust="spacingAndGlyphs" text-anchor="end">−20</text>
<text x="190.5" y="338.44" font-size="6.3" textLength="11.08" lengthAdjust="spacingAndGlyphs" text-anchor="end">−15</text>
<text x="190.5" y="326.32" font-size="6.3" textLength="11.08" lengthAdjust="spacingAndGlyphs" text-anchor="end">−10</text>
<rect x="194.4" y="321.5" width="133.2" height="44" fill="none" stroke="#2b2b2b" stroke-width="0.8"/>
<text transform="translate(320.22,329.01) scale(1.08,1)" font-size="8.2">n</text>
<path d="M364.38 321.5V365.5M382.14 321.5V365.5M399.9 321.5V365.5M417.66 321.5V365.5M435.42 321.5V365.5M453.18 321.5V365.5M470.94 321.5V365.5M488.7 321.5V365.5M355.5 360.53H488.7M355.5 348.41H488.7M355.5 336.29H488.7M355.5 324.17H488.7" stroke="#e3e3e3" stroke-width="0.8" fill="none"/>
<clipPath id="cp52"><rect x="355.5" y="321.5" width="133.2" height="44"/></clipPath>
<polyline points="355.5,331.14 355.94,331.6 356.39,331.32 356.83,330.95 357.28,330.68 357.81,330.22 358.25,329.75 358.7,329.48 359.14,329.75 359.58,330.03 360.03,329.75 360.56,329.29 361.01,330.22 361.45,330.68 361.89,331.14 362.34,332.52 362.87,330.22 363.31,329.29 363.76,328.83 364.2,328.37 364.65,328.83 365.18,329.75 365.62,329.75 366.07,329.29 366.51,329.75 366.96,330.22 367.4,330.22 367.93,330.68 368.38,330.4 368.82,330.22 369.26,330.22 369.71,330.4 370.24,330.22 370.68,329.75 371.13,329.29 371.57,328.83 372.02,329.29 372.55,329.75 372.99,330.22 373.44,330.22 373.88,329.75 374.33,330.22 374.77,330.68 375.3,330.22 375.75,329.75 376.19,331.14 376.63,333.9 377.08,336.21 377.61,337.59 378.06,338.97 378.5,340.35 378.94,339.43 379.39,336.67 379.92,333.9 380.36,332.06 380.81,331.6 381.25,332.06 381.7,333.44 382.23,333.9 382.67,333.9 383.12,334.36 383.56,334.82 384,335.74 384.45,336.21 384.98,334.36 385.43,332.98 385.87,332.52 386.31,332.98 386.76,333.44 387.29,332.98 387.73,332.06 388.18,332.52 388.62,333.44 389.07,332.98 389.6,332.06 390.04,330.18 391.02,330.79 392,331.2 393.06,330.79 394.04,331.61 395.1,332.22 396.08,333.24 397.15,336.3 398.12,335.28 399.19,334.26 400.17,332.22 401.23,331.2 402.21,330.79 403.27,331.2 404.25,330.79 405.32,331.2 406.29,330.59 407.36,331.61 408.34,330.79 409.4,332.22 410.38,333.24 411.44,331.2 412.42,332.22 413.49,335.28 414.46,338.34 415.53,336.3 416.51,333.24 417.57,332.22 418.55,333.24 419.61,332.83 420.24,333.24" fill="none" stroke="#de3430" stroke-width="0.9" stroke-linejoin="round" clip-path="url(#cp52)"/>
<text x="364.38" y="373.7" font-size="6.3" textLength="13.36" lengthAdjust="spacingAndGlyphs" text-anchor="middle">1960</text>
<text x="382.14" y="373.7" font-size="6.3" textLength="13.36" lengthAdjust="spacingAndGlyphs" text-anchor="middle">1980</text>
<text x="399.9" y="373.7" font-size="6.3" textLength="13.36" lengthAdjust="spacingAndGlyphs" text-anchor="middle">2000</text>
<text x="417.66" y="373.7" font-size="6.3" textLength="13.36" lengthAdjust="spacingAndGlyphs" text-anchor="middle">2020</text>
<text x="435.42" y="373.7" font-size="6.3" textLength="13.36" lengthAdjust="spacingAndGlyphs" text-anchor="middle">2040</text>
<text x="453.18" y="373.7" font-size="6.3" textLength="13.36" lengthAdjust="spacingAndGlyphs" text-anchor="middle">2060</text>
<text x="470.94" y="373.7" font-size="6.3" textLength="13.36" lengthAdjust="spacingAndGlyphs" text-anchor="middle">2080</text>
<text x="488.7" y="373.7" font-size="6.3" textLength="13.36" lengthAdjust="spacingAndGlyphs" text-anchor="middle">2100</text>
<path d="M355.5 365.5v1.3M359.94 365.5v1.3M364.38 365.5v2.2M368.82 365.5v1.3M373.26 365.5v1.3M377.7 365.5v1.3M382.14 365.5v2.2M386.58 365.5v1.3M391.02 365.5v1.3M395.46 365.5v1.3M399.9 365.5v2.2M404.34 365.5v1.3M408.78 365.5v1.3M413.22 365.5v1.3M417.66 365.5v2.2M422.1 365.5v1.3M426.54 365.5v1.3M430.98 365.5v1.3M435.42 365.5v2.2M439.86 365.5v1.3M444.3 365.5v1.3M448.74 365.5v1.3M453.18 365.5v2.2M457.62 365.5v1.3M462.06 365.5v1.3M466.5 365.5v1.3M470.94 365.5v2.2M475.38 365.5v1.3M479.82 365.5v1.3M484.26 365.5v1.3M488.7 365.5v2.2M355.5 365.38h-1.3M355.5 362.95h-1.3M355.5 360.53h-2.2M355.5 358.11h-1.3M355.5 355.68h-1.3M355.5 353.26h-1.3M355.5 350.83h-1.3M355.5 348.41h-2.2M355.5 345.98h-1.3M355.5 343.56h-1.3M355.5 341.14h-1.3M355.5 338.71h-1.3M355.5 336.29h-2.2M355.5 333.86h-1.3M355.5 331.44h-1.3M355.5 329.02h-1.3M355.5 326.59h-1.3M355.5 324.17h-2.2M355.5 321.74h-1.3" stroke="#2b2b2b" stroke-width="0.6" fill="none"/>
<text x="351.6" y="362.68" font-size="6.3" textLength="11.08" lengthAdjust="spacingAndGlyphs" text-anchor="end">−25</text>
<text x="351.6" y="350.56" font-size="6.3" textLength="11.08" lengthAdjust="spacingAndGlyphs" text-anchor="end">−20</text>
<text x="351.6" y="338.44" font-size="6.3" textLength="11.08" lengthAdjust="spacingAndGlyphs" text-anchor="end">−15</text>
<text x="351.6" y="326.32" font-size="6.3" textLength="11.08" lengthAdjust="spacingAndGlyphs" text-anchor="end">−10</text>
<rect x="355.5" y="321.5" width="133.2" height="44" fill="none" stroke="#2b2b2b" stroke-width="0.8"/>
<text transform="translate(358.16,362.23) scale(1.08,1)" font-size="8.2">v</text>
<rect x="452.6" y="324.2" width="32.7" height="9.6" rx="1.3" fill="#fff" fill-opacity="0.8" stroke="#d6d6d6" stroke-width="0.6"/>
<line x1="454.3" y1="328.7" x2="465.5" y2="328.7" stroke="#de3430" stroke-width="0.9"/>
<text x="469.8" y="330.8" font-size="6.3" textLength="13.42" lengthAdjust="spacingAndGlyphs">ERA5</text>
<text transform="translate(8.9,344.3) rotate(-90)" font-size="6.0" text-anchor="middle" textLength="42.92" lengthAdjust="spacingAndGlyphs">Latent heat flux</text>
<text transform="translate(14.8,342.9) rotate(-90)" font-size="6.0" text-anchor="middle" textLength="20.07" lengthAdjust="spacingAndGlyphs">(W/m2)</text>
<path d="M42.18 383.12V427.12M59.94 383.12V427.12M77.7 383.12V427.12M95.46 383.12V427.12M113.22 383.12V427.12M130.98 383.12V427.12M148.74 383.12V427.12M166.5 383.12V427.12M33.3 423.34H166.5M33.3 410.88H166.5M33.3 398.43H166.5M33.3 385.98H166.5" stroke="#e3e3e3" stroke-width="0.8" fill="none"/>
<clipPath id="cp60"><rect x="33.3" y="383.12" width="133.2" height="44"/></clipPath>
<polyline points="33.03,420.86 33.66,422.87 34.37,424.88 34.99,426.22 35.7,426.89 36.32,426.22 37.03,423.54 37.65,421.53 38.63,420.19 39.43,420.86 40.4,421.53 41.29,420.86 42.09,422.2 42.8,420.19 43.42,418.85 44.4,419.52 45.02,418.18 45.73,417.91 46.44,419.52 47.06,421.53 48.04,421.53 48.84,420.19 49.73,418.85 50.44,417.11 51.06,416.17 51.77,415.23 52.39,417.51 53.1,420.19 53.81,418.18 54.43,416.17 55.14,414.83 55.77,414.56 56.48,415.5 57.1,418.85 57.81,421.53 58.43,422.2 59.14,419.52 59.76,416.84 60.47,414.16 61.18,411.48 61.8,405.45 62.52,401.43 63.14,398.75 63.85,399.42 64.47,402.1 65.18,404.11 65.8,405.45 66.51,408.8 67.13,414.16 67.84,417.51 68.55,418.18 69.18,418.85 69.89,417.51 70.51,419.52 71.22,420.86 71.84,421.53 72.55,419.52 73.17,415.5 73.88,409.47 74.5,404.78 75.21,402.77 75.92,406.12 76.55,411.48 77.26,414.16 77.88,414.83 78.59,414.83 79.21,414.56 79.92,414.16 80.54,413.49 81.25,412.15 81.87,410.81 82.58,410.14 83.21,409.47 83.92,410.14 84.63,412.82 85.25,416.17 85.96,414.16 86.58,412.82 87.29,413.49 87.91,412.82 88.62,410.81 89.24,408.8 89.95,407.46 90.58,406.12 91.29,412.82 92,417.51 92.62,418.85 93.33,419.52 93.95,419.92 94.66,420.19 95.28,419.52 95.99,420.86 96.61,418.18 97.32,416.17 97.95,418.18 98.66,420.19 99.37,421.53 99.9,422.2 100.17,422.2 100.7,418.18 101.32,417.51 102.03,416.84 102.65,415.5 103.36,414.83 103.98,417.51 104.7,419.52 105.32,417.51 106.03,413.49 106.74,410.14 107.36,406.79 108.07,404.78 108.69,406.12 109.4,404.11 110.02,400.09 110.73,396.07 111.36,393.39 112.33,392.72 113.13,392.45 113.84,394.06 114.46,393.39 115.44,394.06 116.06,396.74 116.77,401.43 117.39,405.45 118.1,404.11 118.73,399.42 119.44,396.07 120.06,394.73 120.77,396.74 121.48,398.08 122.1,396.07 122.81,392.05 123.43,389.37 124.14,388.03 124.76,387.36 125.47,388.7 126.1,391.38 126.81,389.37 127.43,387.09 128.14,386.29 128.85,388.03 129.47,390.71 130.18,390.04 130.8,390.71 131.51,391.38 132.13,390.71 132.84,390.31 133.47,390.71 134.18,390.04 134.8,388.97 135.51,388.03 136.22,389.37 136.84,390.04 137.55,388.7 138.17,388.03 138.88,387.36 139.5,387.63 140.22,387.09 140.84,388.03 141.55,389.37 142.17,388.7 142.88,390.04 143.59,392.05 144.21,393.39 144.92,391.38 145.54,390.04 146.25,390.71 146.88,390.04 147.59,389.37 148.21,388.03 148.92,387.63 149.54,390.04 150.25,391.38 150.96,390.04 151.58,389.37 152.29,388.7 152.91,388.43 153.62,389.37 154.25,388.7 154.96,388.03 155.58,389.37 156.29,391.38 156.91,392.05 157.62,392.72 158.33,393.39 158.95,391.38 159.66,390.71 160.28,392.05 160.99,393.39 161.62,392.05 162.33,391.11 162.95,390.71 163.66,391.11 164.28,391.38 164.99,390.71 165.7,390.31 166.32,390.71 167.03,390.31" fill="none" stroke="#1f1f1f" stroke-width="0.9" stroke-linejoin="round" clip-path="url(#cp60)"/>
<text x="42.18" y="435.32" font-size="6.3" textLength="13.36" lengthAdjust="spacingAndGlyphs" text-anchor="middle">1960</text>
<text x="59.94" y="435.32" font-size="6.3" textLength="13.36" lengthAdjust="spacingAndGlyphs" text-anchor="middle">1980</text>
<text x="77.7" y="435.32" font-size="6.3" textLength="13.36" lengthAdjust="spacingAndGlyphs" text-anchor="middle">2000</text>
<text x="95.46" y="435.32" font-size="6.3" textLength="13.36" lengthAdjust="spacingAndGlyphs" text-anchor="middle">2020</text>
<text x="113.22" y="435.32" font-size="6.3" textLength="13.36" lengthAdjust="spacingAndGlyphs" text-anchor="middle">2040</text>
<text x="130.98" y="435.32" font-size="6.3" textLength="13.36" lengthAdjust="spacingAndGlyphs" text-anchor="middle">2060</text>
<text x="148.74" y="435.32" font-size="6.3" textLength="13.36" lengthAdjust="spacingAndGlyphs" text-anchor="middle">2080</text>
<text x="166.5" y="435.32" font-size="6.3" textLength="13.36" lengthAdjust="spacingAndGlyphs" text-anchor="middle">2100</text>
<path d="M33.3 427.12v1.3M37.74 427.12v1.3M42.18 427.12v2.2M46.62 427.12v1.3M51.06 427.12v1.3M55.5 427.12v1.3M59.94 427.12v2.2M64.38 427.12v1.3M68.82 427.12v1.3M73.26 427.12v1.3M77.7 427.12v2.2M82.14 427.12v1.3M86.58 427.12v1.3M91.02 427.12v1.3M95.46 427.12v2.2M99.9 427.12v1.3M104.34 427.12v1.3M108.78 427.12v1.3M113.22 427.12v2.2M117.66 427.12v1.3M122.1 427.12v1.3M126.54 427.12v1.3M130.98 427.12v2.2M135.42 427.12v1.3M139.86 427.12v1.3M144.3 427.12v1.3M148.74 427.12v2.2M153.18 427.12v1.3M157.62 427.12v1.3M162.06 427.12v1.3M166.5 427.12v2.2M33.3 425.83h-1.3M33.3 423.34h-2.2M33.3 420.84h-1.3M33.3 418.35h-1.3M33.3 415.86h-1.3M33.3 413.37h-1.3M33.3 410.88h-2.2M33.3 408.39h-1.3M33.3 405.9h-1.3M33.3 403.41h-1.3M33.3 400.92h-1.3M33.3 398.43h-2.2M33.3 395.94h-1.3M33.3 393.45h-1.3M33.3 390.96h-1.3M33.3 388.47h-1.3M33.3 385.98h-2.2M33.3 383.49h-1.3" stroke="#2b2b2b" stroke-width="0.6" fill="none"/>
<text x="29.4" y="425.49" font-size="6.3" textLength="6.68" lengthAdjust="spacingAndGlyphs" text-anchor="end">40</text>
<text x="29.4" y="413.03" font-size="6.3" textLength="6.68" lengthAdjust="spacingAndGlyphs" text-anchor="end">50</text>
<text x="29.4" y="400.58" font-size="6.3" textLength="6.68" lengthAdjust="spacingAndGlyphs" text-anchor="end">60</text>
<text x="29.4" y="388.13" font-size="6.3" textLength="6.68" lengthAdjust="spacingAndGlyphs" text-anchor="end">70</text>
<rect x="33.3" y="383.12" width="133.2" height="44" fill="none" stroke="#2b2b2b" stroke-width="0.8"/>
<text transform="translate(35.73,389.3) scale(1.08,1)" font-size="8.2">g</text>
<path d="M203.28 383.12V427.12M221.04 383.12V427.12M238.8 383.12V427.12M256.56 383.12V427.12M274.32 383.12V427.12M292.08 383.12V427.12M309.84 383.12V427.12M327.6 383.12V427.12M194.4 423.34H327.6M194.4 410.88H327.6M194.4 398.43H327.6M194.4 385.98H327.6" stroke="#e3e3e3" stroke-width="0.8" fill="none"/>
<clipPath id="cp61"><rect x="194.4" y="383.12" width="133.2" height="44"/></clipPath>
<polyline points="193.96,412.15 194.67,414.16 195.38,415.5 196,413.49 196.71,410.81 197.33,410.14 198.04,412.15 198.66,414.16 199.37,412.82 199.99,410.14 200.7,408.8 201.33,412.15 202.04,415.5 202.75,417.51 203.37,414.16 204.08,412.82 204.7,412.15 205.41,410.81 206.03,410.14 206.74,409.47 207.36,410.81 208.08,412.15 208.7,414.16 209.41,412.15 210.12,410.81 210.74,411.48 211.45,410.81 212.07,410.14 212.78,411.48 213.4,412.82 214.11,414.83 214.74,413.49 215.45,412.15 216.07,410.81 216.78,410.14 217.49,412.15 218.11,414.16 218.82,416.17 219.44,412.82 220.15,410.81 220.77,411.48 221.48,411.48 222.11,412.15 222.82,412.82 223.44,412.15 224.15,411.75 224.86,412.15 225.48,412.82 226.19,410.81 226.81,408.8 227.52,410.14 228.14,412.15 228.85,410.81 229.48,411.48 230.19,413.49 230.81,412.15 231.52,410.81 232.23,409.47 232.85,408.13 233.56,408.8 234.18,410.81 234.89,412.15 235.51,411.48 236.22,410.14 236.85,411.48 237.56,413.49 238.18,410.81 238.89,411.48 239.6,412.82 240.22,414.16 240.93,415.5 241.55,414.83 242.26,412.15 242.88,410.14 243.6,409.47 244.22,410.81 244.93,408.13 245.55,407.46 246.26,410.14 246.97,412.15 247.59,412.82 248.3,410.14 248.92,409.47 249.63,408.13 250.26,410.81 250.97,412.15 251.59,410.81 252.3,410.14 252.92,409.47 253.63,408.13 254.34,406.79 254.96,406.12 255.67,408.8 256.29,409.47 257,410.14 257.63,408.8 258.34,408.13 258.96,409.47 259.67,410.14 260.29,409.47 260.82,408.8 261.18,408.8 261.71,410.14 262.33,410.41 263.04,409.47 263.66,410.14 264.37,408.8 265,409.47 265.71,410.14 266.33,408.13 267.04,407.46 267.66,408.8 268.37,410.81 269.08,412.82 269.7,413.49 270.41,412.15 271.03,410.14 271.74,410.81 272.37,411.48 273.08,410.14 273.7,409.47 274.41,410.14 275.03,409.47 275.74,410.81 276.45,412.15 277.07,411.48 277.78,410.14 278.4,408.8 279.12,406.12 279.74,405.45 280.45,406.12 281.07,407.46 281.78,410.14 282.4,412.15 283.11,411.48 283.82,410.81 284.44,409.47 285.15,408.13 285.78,407.46 286.49,408.13 287.11,408.8 287.82,410.14 288.44,409.47 289.15,408.8 289.77,408.13 290.48,407.46 291.19,406.79 291.81,407.46 292.52,407.19 293.15,407.46 293.86,406.79 294.48,407.46 295.19,406.79 295.81,407.46 296.52,406.79 297.14,406.12 297.85,407.46 298.56,406.79 299.18,406.12 299.89,405.45 300.52,406.79 301.23,410.14 301.85,410.81 302.56,409.47 303.18,408.13 303.89,406.79 304.51,403.44 305.22,401.43 305.93,400.76 306.55,404.78 307.26,406.12 307.89,403.44 308.6,402.1 309.22,404.78 309.93,405.45 310.55,404.11 311.26,403.44 311.88,404.11 312.59,402.77 313.3,401.43 313.92,399.42 314.64,398.08 315.26,397.41 315.97,399.42 316.59,401.43 317.3,400.76 317.92,398.08 318.63,397.41 319.25,399.42 319.96,402.1 320.67,400.76 321.3,403.44 322.01,404.78 322.63,400.76 323.34,396.74 323.96,395.4 324.67,396.07 325.29,397.41 326,395.4 326.62,395.13 327.33,394.73 328.04,394.73" fill="none" stroke="#4f9497" stroke-width="0.9" stroke-linejoin="round" clip-path="url(#cp61)"/>
<text x="203.28" y="435.32" font-size="6.3" textLength="13.36" lengthAdjust="spacingAndGlyphs" text-anchor="middle">1960</text>
<text x="221.04" y="435.32" font-size="6.3" textLength="13.36" lengthAdjust="spacingAndGlyphs" text-anchor="middle">1980</text>
<text x="238.8" y="435.32" font-size="6.3" textLength="13.36" lengthAdjust="spacingAndGlyphs" text-anchor="middle">2000</text>
<text x="256.56" y="435.32" font-size="6.3" textLength="13.36" lengthAdjust="spacingAndGlyphs" text-anchor="middle">2020</text>
<text x="274.32" y="435.32" font-size="6.3" textLength="13.36" lengthAdjust="spacingAndGlyphs" text-anchor="middle">2040</text>
<text x="292.08" y="435.32" font-size="6.3" textLength="13.36" lengthAdjust="spacingAndGlyphs" text-anchor="middle">2060</text>
<text x="309.84" y="435.32" font-size="6.3" textLength="13.36" lengthAdjust="spacingAndGlyphs" text-anchor="middle">2080</text>
<text x="327.6" y="435.32" font-size="6.3" textLength="13.36" lengthAdjust="spacingAndGlyphs" text-anchor="middle">2100</text>
<path d="M194.4 427.12v1.3M198.84 427.12v1.3M203.28 427.12v2.2M207.72 427.12v1.3M212.16 427.12v1.3M216.6 427.12v1.3M221.04 427.12v2.2M225.48 427.12v1.3M229.92 427.12v1.3M234.36 427.12v1.3M238.8 427.12v2.2M243.24 427.12v1.3M247.68 427.12v1.3M252.12 427.12v1.3M256.56 427.12v2.2M261 427.12v1.3M265.44 427.12v1.3M269.88 427.12v1.3M274.32 427.12v2.2M278.76 427.12v1.3M283.2 427.12v1.3M287.64 427.12v1.3M292.08 427.12v2.2M296.52 427.12v1.3M300.96 427.12v1.3M305.4 427.12v1.3M309.84 427.12v2.2M314.28 427.12v1.3M318.72 427.12v1.3M323.16 427.12v1.3M327.6 427.12v2.2M194.4 425.83h-1.3M194.4 423.34h-2.2M194.4 420.84h-1.3M194.4 418.35h-1.3M194.4 415.86h-1.3M194.4 413.37h-1.3M194.4 410.88h-2.2M194.4 408.39h-1.3M194.4 405.9h-1.3M194.4 403.41h-1.3M194.4 400.92h-1.3M194.4 398.43h-2.2M194.4 395.94h-1.3M194.4 393.45h-1.3M194.4 390.96h-1.3M194.4 388.47h-1.3M194.4 385.98h-2.2M194.4 383.49h-1.3" stroke="#2b2b2b" stroke-width="0.6" fill="none"/>
<text x="190.5" y="425.49" font-size="6.3" textLength="6.68" lengthAdjust="spacingAndGlyphs" text-anchor="end">40</text>
<text x="190.5" y="413.03" font-size="6.3" textLength="6.68" lengthAdjust="spacingAndGlyphs" text-anchor="end">50</text>
<text x="190.5" y="400.58" font-size="6.3" textLength="6.68" lengthAdjust="spacingAndGlyphs" text-anchor="end">60</text>
<text x="190.5" y="388.13" font-size="6.3" textLength="6.68" lengthAdjust="spacingAndGlyphs" text-anchor="end">70</text>
<rect x="194.4" y="383.12" width="133.2" height="44" fill="none" stroke="#2b2b2b" stroke-width="0.8"/>
<text transform="translate(196.53,389.51) scale(1.08,1)" font-size="8.2">o</text>
<path d="M364.38 383.12V427.12M382.14 383.12V427.12M399.9 383.12V427.12M417.66 383.12V427.12M435.42 383.12V427.12M453.18 383.12V427.12M470.94 383.12V427.12M488.7 383.12V427.12M355.5 423.34H488.7M355.5 410.88H488.7M355.5 398.43H488.7M355.5 385.98H488.7" stroke="#e3e3e3" stroke-width="0.8" fill="none"/>
<clipPath id="cp62"><rect x="355.5" y="383.12" width="133.2" height="44"/></clipPath>
<polyline points="355.5,405.04 355.94,405.5 356.39,405.96 356.83,406.42 357.28,406.14 357.81,406.42 358.25,406.14 358.7,406.42 359.14,406.88 359.58,407.34 360.03,407.62 360.56,407.8 361.01,407.34 361.45,406.88 361.89,406.7 362.34,406.42 362.87,406.14 363.31,406.7 363.76,406.42 364.2,405.96 364.65,406.14 365.18,406.42 365.62,406.14 366.07,406.88 366.51,407.8 366.96,408.26 367.4,408.73 367.93,408.26 368.38,407.34 368.82,406.42 369.26,405.5 369.71,404.58 370.24,404.12 370.68,404.58 371.13,405.5 371.57,405.96 372.02,405.04 372.55,404.58 372.99,404.12 373.44,403.2 373.88,402.28 374.33,401.81 374.77,402.74 375.3,409.65 375.75,406.42 376.19,401.81 376.63,399.05 377.08,396.74 377.61,394.44 378.06,392.6 378.5,392.14 378.94,393.98 379.39,396.74 379.92,399.97 380.36,404.58 380.81,405.96 381.25,404.12 381.7,403.66 382.23,404.12 382.67,403.66 383.12,403.2 383.56,402.74 384,401.81 384.45,400.89 384.98,401.81 385.43,402.74 385.87,403.2 386.31,404.12 386.76,403.66 387.29,403.2 387.73,402.74 388.18,403.38 388.62,403.2 389.07,403.01 389.6,403.66 390.04,403.42 391.02,404.44 392,406.48 393.06,402.4 394.04,405.46 395.1,407.5 396.08,404.44 397.15,402.4 398.12,401.38 399.19,403.42 400.17,404.44 401.23,407.5 402.21,403.42 403.27,401.38 404.25,402.4 405.32,404.44 406.29,405.46 407.36,403.42 408.34,404.44 409.4,406.48 410.38,407.5 411.44,407.5 412.42,406.48 413.49,402.4 414.46,400.36 415.53,401.38 416.51,402.4 417.57,401.38 418.55,402.4 419.61,403.42 420.24,402.4" fill="none" stroke="#de3430" stroke-width="0.9" stroke-linejoin="round" clip-path="url(#cp62)"/>
<text x="364.38" y="435.32" font-size="6.3" textLength="13.36" lengthAdjust="spacingAndGlyphs" text-anchor="middle">1960</text>
<text x="382.14" y="435.32" font-size="6.3" textLength="13.36" lengthAdjust="spacingAndGlyphs" text-anchor="middle">1980</text>
<text x="399.9" y="435.32" font-size="6.3" textLength="13.36" lengthAdjust="spacingAndGlyphs" text-anchor="middle">2000</text>
<text x="417.66" y="435.32" font-size="6.3" textLength="13.36" lengthAdjust="spacingAndGlyphs" text-anchor="middle">2020</text>
<text x="435.42" y="435.32" font-size="6.3" textLength="13.36" lengthAdjust="spacingAndGlyphs" text-anchor="middle">2040</text>
<text x="453.18" y="435.32" font-size="6.3" textLength="13.36" lengthAdjust="spacingAndGlyphs" text-anchor="middle">2060</text>
<text x="470.94" y="435.32" font-size="6.3" textLength="13.36" lengthAdjust="spacingAndGlyphs" text-anchor="middle">2080</text>
<text x="488.7" y="435.32" font-size="6.3" textLength="13.36" lengthAdjust="spacingAndGlyphs" text-anchor="middle">2100</text>
<path d="M355.5 427.12v1.3M359.94 427.12v1.3M364.38 427.12v2.2M368.82 427.12v1.3M373.26 427.12v1.3M377.7 427.12v1.3M382.14 427.12v2.2M386.58 427.12v1.3M391.02 427.12v1.3M395.46 427.12v1.3M399.9 427.12v2.2M404.34 427.12v1.3M408.78 427.12v1.3M413.22 427.12v1.3M417.66 427.12v2.2M422.1 427.12v1.3M426.54 427.12v1.3M430.98 427.12v1.3M435.42 427.12v2.2M439.86 427.12v1.3M444.3 427.12v1.3M448.74 427.12v1.3M453.18 427.12v2.2M457.62 427.12v1.3M462.06 427.12v1.3M466.5 427.12v1.3M470.94 427.12v2.2M475.38 427.12v1.3M479.82 427.12v1.3M484.26 427.12v1.3M488.7 427.12v2.2M355.5 425.83h-1.3M355.5 423.34h-2.2M355.5 420.84h-1.3M355.5 418.35h-1.3M355.5 415.86h-1.3M355.5 413.37h-1.3M355.5 410.88h-2.2M355.5 408.39h-1.3M355.5 405.9h-1.3M355.5 403.41h-1.3M355.5 400.92h-1.3M355.5 398.43h-2.2M355.5 395.94h-1.3M355.5 393.45h-1.3M355.5 390.96h-1.3M355.5 388.47h-1.3M355.5 385.98h-2.2M355.5 383.49h-1.3" stroke="#2b2b2b" stroke-width="0.6" fill="none"/>
<text x="351.6" y="425.49" font-size="6.3" textLength="6.68" lengthAdjust="spacingAndGlyphs" text-anchor="end">40</text>
<text x="351.6" y="413.03" font-size="6.3" textLength="6.68" lengthAdjust="spacingAndGlyphs" text-anchor="end">50</text>
<text x="351.6" y="400.58" font-size="6.3" textLength="6.68" lengthAdjust="spacingAndGlyphs" text-anchor="end">60</text>
<text x="351.6" y="388.13" font-size="6.3" textLength="6.68" lengthAdjust="spacingAndGlyphs" text-anchor="end">70</text>
<rect x="355.5" y="383.12" width="133.2" height="44" fill="none" stroke="#2b2b2b" stroke-width="0.8"/>
<text transform="translate(357.91,389.43) scale(1.08,1)" font-size="8.2">w</text>
<rect x="452.6" y="385.82" width="32.7" height="9.6" rx="1.3" fill="#fff" fill-opacity="0.8" stroke="#d6d6d6" stroke-width="0.6"/>
<line x1="454.3" y1="390.32" x2="465.5" y2="390.32" stroke="#de3430" stroke-width="0.9"/>
<text x="469.8" y="392.42" font-size="6.3" textLength="13.42" lengthAdjust="spacingAndGlyphs">ERA5</text>
<text transform="translate(13.5,405.92) rotate(-90)" font-size="6.0" text-anchor="middle" textLength="38.02" lengthAdjust="spacingAndGlyphs">SWd radiation</text>
<text transform="translate(19.4,404.52) rotate(-90)" font-size="6.0" text-anchor="middle" textLength="20.07" lengthAdjust="spacingAndGlyphs">(W/m2)</text>
<path d="M42.18 444.74V488.74M59.94 444.74V488.74M77.7 444.74V488.74M95.46 444.74V488.74M113.22 444.74V488.74M130.98 444.74V488.74M148.74 444.74V488.74M166.5 444.74V488.74M33.3 481.73H166.5M33.3 465.99H166.5M33.3 450.25H166.5" stroke="#e3e3e3" stroke-width="0.8" fill="none"/>
<clipPath id="cp70"><rect x="33.3" y="444.74" width="133.2" height="44"/></clipPath>
<polyline points="33.03,480.85 33.66,482.19 34.37,483.53 34.99,484.87 35.7,485.54 36.32,486.21 37.03,484.2 37.65,482.86 38.36,481.52 39.07,482.19 39.69,484.87 40.4,487.55 41.03,484.2 41.74,482.19 42.36,480.18 43.07,479.51 43.69,478.17 44.4,480.18 45.02,482.19 45.73,482.86 46.44,484.2 47.06,483.53 47.77,482.86 48.4,482.59 49.11,483.13 49.73,482.19 50.44,481.52 51.06,480.85 51.77,479.51 52.39,480.18 53.1,480.85 53.81,482.19 54.43,480.85 55.14,480.18 55.77,478.84 56.48,478.17 57.1,479.11 57.81,476.83 58.43,479.51 59.14,482.19 59.76,482.86 60.47,479.51 61.18,475.49 61.8,470.8 62.52,466.78 63.14,468.12 63.85,469.46 64.47,468.79 65.18,470.13 65.8,470.8 66.51,471.47 67.13,472.81 67.84,474.15 68.55,476.83 69.18,474.82 69.89,474.15 70.51,474.82 71.22,476.16 71.84,477.5 72.55,478.84 73.17,476.83 73.88,474.82 74.5,473.48 75.21,472.81 75.92,472.14 76.55,474.15 77.26,476.16 77.88,475.49 78.59,474.82 79.21,474.15 79.92,473.48 80.54,472.14 81.25,471.47 81.87,470.8 82.58,470.13 83.21,469.46 83.92,468.79 84.63,470.13 85.25,472.14 85.96,472.81 86.58,471.47 87.29,472.14 87.91,471.47 88.62,470.8 89.24,470.13 89.95,470.13 90.58,470.13 91.29,470.8 92,472.14 92.62,474.82 93.33,475.49 93.95,474.82 94.66,476.16 95.28,475.49 95.99,476.83 96.61,477.5 97.32,478.17 97.95,478.57 98.66,477.5 99.37,476.83 99.9,476.43 100.17,476.16 100.7,474.82 101.32,473.75 102.03,473.21 102.65,472.81 103.36,473.21 103.98,472.41 104.7,472.14 105.32,470.8 106.03,469.46 106.74,467.85 107.36,466.11 108.07,465.17 108.69,464.77 109.4,464.37 110.02,465.44 110.73,464.1 111.36,462.09 112.07,460.75 112.69,459.81 113.4,459.41 114.11,460.08 114.73,460.35 115.44,460.75 116.06,461.15 116.77,461.42 117.39,462.09 118.1,462.76 118.73,461.42 119.44,460.35 120.06,459.81 120.77,459.41 121.48,459.01 122.1,458.74 122.81,458.47 123.43,458.07 124.14,457.4 124.76,457.13 125.47,457.13 126.1,457.4 126.81,456.86 127.43,456.73 128.14,456.06 128.85,455.39 129.47,454.72 130.18,454.45 130.8,454.05 131.51,454.45 132.13,454.99 132.84,454.05 133.47,453.11 134.18,452.31 134.8,453.11 135.51,454.05 136.22,454.72 136.84,453.65 137.55,452.71 138.17,452.31 138.88,452.04 139.5,452.31 140.22,452.58 140.84,452.44 141.55,452.98 142.17,453.38 142.88,452.71 143.59,452.04 144.21,451.77 144.92,451.37 145.54,450.7 146.25,450.03 146.88,449.36 147.59,450.7 148.21,452.04 148.92,451.37 149.54,450.7 150.25,450.43 150.96,450.97 151.58,450.7 152.29,450.43 152.91,450.3 153.62,450.7 154.25,450.97 154.96,450.43 155.58,450.03 156.29,449.63 156.91,449.36 157.62,449.63 158.33,449.09 158.95,448.69 159.66,449.09 160.28,449.36 160.99,448.02 161.62,447.75 162.33,448.02 162.95,449.36 163.66,448.69 164.28,448.29 164.99,448.69 165.7,448.02 166.32,447.75 167.03,447.75" fill="none" stroke="#1f1f1f" stroke-width="0.9" stroke-linejoin="round" clip-path="url(#cp70)"/>
<text x="42.18" y="496.94" font-size="6.3" textLength="13.36" lengthAdjust="spacingAndGlyphs" text-anchor="middle">1960</text>
<text x="59.94" y="496.94" font-size="6.3" textLength="13.36" lengthAdjust="spacingAndGlyphs" text-anchor="middle">1980</text>
<text x="77.7" y="496.94" font-size="6.3" textLength="13.36" lengthAdjust="spacingAndGlyphs" text-anchor="middle">2000</text>
<text x="95.46" y="496.94" font-size="6.3" textLength="13.36" lengthAdjust="spacingAndGlyphs" text-anchor="middle">2020</text>
<text x="113.22" y="496.94" font-size="6.3" textLength="13.36" lengthAdjust="spacingAndGlyphs" text-anchor="middle">2040</text>
<text x="130.98" y="496.94" font-size="6.3" textLength="13.36" lengthAdjust="spacingAndGlyphs" text-anchor="middle">2060</text>
<text x="148.74" y="496.94" font-size="6.3" textLength="13.36" lengthAdjust="spacingAndGlyphs" text-anchor="middle">2080</text>
<text x="166.5" y="496.94" font-size="6.3" textLength="13.36" lengthAdjust="spacingAndGlyphs" text-anchor="middle">2100</text>
<path d="M33.3 488.74v1.3M37.74 488.74v1.3M42.18 488.74v2.2M46.62 488.74v1.3M51.06 488.74v1.3M55.5 488.74v1.3M59.94 488.74v2.2M64.38 488.74v1.3M68.82 488.74v1.3M73.26 488.74v1.3M77.7 488.74v2.2M82.14 488.74v1.3M86.58 488.74v1.3M91.02 488.74v1.3M95.46 488.74v2.2M99.9 488.74v1.3M104.34 488.74v1.3M108.78 488.74v1.3M113.22 488.74v2.2M117.66 488.74v1.3M122.1 488.74v1.3M126.54 488.74v1.3M130.98 488.74v2.2M135.42 488.74v1.3M139.86 488.74v1.3M144.3 488.74v1.3M148.74 488.74v2.2M153.18 488.74v1.3M157.62 488.74v1.3M162.06 488.74v1.3M166.5 488.74v2.2M33.3 485.67h-1.3M33.3 481.73h-2.2M33.3 477.8h-1.3M33.3 473.86h-1.3M33.3 469.93h-1.3M33.3 465.99h-2.2M33.3 462.06h-1.3M33.3 458.12h-1.3M33.3 454.19h-1.3M33.3 450.25h-2.2M33.3 446.31h-1.3" stroke="#2b2b2b" stroke-width="0.6" fill="none"/>
<text x="29.4" y="483.88" font-size="6.3" textLength="10.02" lengthAdjust="spacingAndGlyphs" text-anchor="end">220</text>
<text x="29.4" y="468.14" font-size="6.3" textLength="10.02" lengthAdjust="spacingAndGlyphs" text-anchor="end">240</text>
<text x="29.4" y="452.4" font-size="6.3" textLength="10.02" lengthAdjust="spacingAndGlyphs" text-anchor="end">260</text>
<rect x="33.3" y="444.74" width="133.2" height="44" fill="none" stroke="#2b2b2b" stroke-width="0.8"/>
<text transform="translate(35.69,452.84) scale(1.08,1)" font-size="8.2">h</text>
<path d="M203.28 444.74V488.74M221.04 444.74V488.74M238.8 444.74V488.74M256.56 444.74V488.74M274.32 444.74V488.74M292.08 444.74V488.74M309.84 444.74V488.74M327.6 444.74V488.74M194.4 481.73H327.6M194.4 465.99H327.6M194.4 450.25H327.6" stroke="#e3e3e3" stroke-width="0.8" fill="none"/>
<clipPath id="cp71"><rect x="194.4" y="444.74" width="133.2" height="44"/></clipPath>
<polyline points="193.96,472.81 194.67,473.48 195.38,474.15 196,472.14 196.71,473.48 197.33,471.47 198.04,472.81 198.66,474.15 199.37,474.82 199.99,472.81 200.7,472.14 201.33,471.47 202.04,470.8 202.75,470.13 203.37,469.46 204.08,470.8 204.7,471.47 205.41,472.81 206.03,472.14 206.74,472.41 207.36,472.14 208.08,471.47 208.7,471.47 209.41,470.8 210.12,471.87 210.74,472.41 211.45,472.81 212.07,472.81 212.78,473.21 213.4,472.41 214.11,472.81 214.74,473.48 215.45,472.14 216.07,470.8 216.78,469.46 217.49,470.8 218.11,472.81 218.82,473.48 219.44,471.47 220.15,470.8 220.77,472.14 221.48,471.47 222.11,472.14 222.82,472.81 223.44,472.14 224.15,470.8 224.86,470.13 225.48,468.79 226.19,469.46 226.81,470.8 227.52,472.14 228.14,470.13 228.85,468.79 229.48,469.19 230.19,469.46 230.81,469.19 231.52,468.79 232.23,468.79 232.85,468.12 233.56,468.79 234.18,467.45 234.89,466.78 235.51,467.45 236.22,468.12 236.85,468.39 237.56,467.85 238.18,468.12 238.89,468.79 239.6,468.12 240.22,470.13 240.93,470.53 241.55,469.46 242.26,467.85 242.88,466.11 243.6,465.44 244.22,466.78 244.93,468.12 245.55,467.45 246.26,466.78 246.97,466.51 247.59,467.05 248.3,466.11 248.92,465.71 249.63,466.11 250.26,465.17 250.97,466.11 251.59,466.78 252.3,467.05 252.92,466.11 253.63,465.44 254.34,466.11 254.96,464.77 255.67,465.17 256.29,466.78 257,467.45 257.63,466.11 258.34,465.44 258.96,464.1 259.67,463.43 260.29,462.76 260.82,463.43 261.18,463.43 261.71,466.11 262.33,466.51 263.04,465.44 263.66,464.77 264.37,465.17 265,464.37 265.71,464.1 266.33,464.77 267.04,465.44 267.66,464.1 268.37,462.76 269.08,461.42 269.7,460.75 270.41,462.09 271.03,464.1 271.74,462.76 272.37,462.09 273.08,462.76 273.7,464.1 274.41,465.44 275.03,466.11 275.74,464.77 276.45,463.43 277.07,461.42 277.78,460.08 278.4,459.41 279.12,460.08 279.74,458.74 280.45,458.07 281.07,459.41 281.78,460.75 282.4,460.08 283.11,459.81 283.82,460.75 284.44,460.08 285.15,459.41 285.78,460.75 286.49,461.42 287.11,459.41 287.82,458.07 288.44,457.4 289.15,458.74 289.77,460.75 290.48,462.09 291.19,460.08 291.81,456.73 292.52,456.06 293.15,457.4 293.86,458.07 294.48,457.4 295.19,456.73 295.81,456.06 296.52,455.39 297.14,454.72 297.85,456.06 298.56,458.07 299.18,457.4 299.89,455.39 300.52,454.05 301.23,454.72 301.85,455.39 302.56,454.72 303.18,453.38 303.89,452.71 304.51,453.38 305.22,452.04 305.93,450.7 306.55,450.03 307.26,451.37 307.89,452.04 308.6,451.37 309.22,450.7 309.93,451.37 310.55,452.04 311.26,450.03 311.88,450.7 312.59,454.05 313.3,452.04 313.92,450.03 314.64,449.36 315.26,448.69 315.97,448.02 316.59,447.75 317.3,447.35 317.92,446.95 318.63,447.35 319.25,446.68 319.96,446.01 320.67,446.41 321.3,446.01 322.01,446.68 322.63,447.35 323.34,446.01 323.96,445.61 324.67,445.34 325.29,446.01 326,445.61 326.62,445.34 327.33,445.07 328.04,445.34" fill="none" stroke="#4f9497" stroke-width="0.9" stroke-linejoin="round" clip-path="url(#cp71)"/>
<text x="203.28" y="496.94" font-size="6.3" textLength="13.36" lengthAdjust="spacingAndGlyphs" text-anchor="middle">1960</text>
<text x="221.04" y="496.94" font-size="6.3" textLength="13.36" lengthAdjust="spacingAndGlyphs" text-anchor="middle">1980</text>
<text x="238.8" y="496.94" font-size="6.3" textLength="13.36" lengthAdjust="spacingAndGlyphs" text-anchor="middle">2000</text>
<text x="256.56" y="496.94" font-size="6.3" textLength="13.36" lengthAdjust="spacingAndGlyphs" text-anchor="middle">2020</text>
<text x="274.32" y="496.94" font-size="6.3" textLength="13.36" lengthAdjust="spacingAndGlyphs" text-anchor="middle">2040</text>
<text x="292.08" y="496.94" font-size="6.3" textLength="13.36" lengthAdjust="spacingAndGlyphs" text-anchor="middle">2060</text>
<text x="309.84" y="496.94" font-size="6.3" textLength="13.36" lengthAdjust="spacingAndGlyphs" text-anchor="middle">2080</text>
<text x="327.6" y="496.94" font-size="6.3" textLength="13.36" lengthAdjust="spacingAndGlyphs" text-anchor="middle">2100</text>
<path d="M194.4 488.74v1.3M198.84 488.74v1.3M203.28 488.74v2.2M207.72 488.74v1.3M212.16 488.74v1.3M216.6 488.74v1.3M221.04 488.74v2.2M225.48 488.74v1.3M229.92 488.74v1.3M234.36 488.74v1.3M238.8 488.74v2.2M243.24 488.74v1.3M247.68 488.74v1.3M252.12 488.74v1.3M256.56 488.74v2.2M261 488.74v1.3M265.44 488.74v1.3M269.88 488.74v1.3M274.32 488.74v2.2M278.76 488.74v1.3M283.2 488.74v1.3M287.64 488.74v1.3M292.08 488.74v2.2M296.52 488.74v1.3M300.96 488.74v1.3M305.4 488.74v1.3M309.84 488.74v2.2M314.28 488.74v1.3M318.72 488.74v1.3M323.16 488.74v1.3M327.6 488.74v2.2M194.4 485.67h-1.3M194.4 481.73h-2.2M194.4 477.8h-1.3M194.4 473.86h-1.3M194.4 469.93h-1.3M194.4 465.99h-2.2M194.4 462.06h-1.3M194.4 458.12h-1.3M194.4 454.19h-1.3M194.4 450.25h-2.2M194.4 446.31h-1.3" stroke="#2b2b2b" stroke-width="0.6" fill="none"/>
<text x="190.5" y="483.88" font-size="6.3" textLength="10.02" lengthAdjust="spacingAndGlyphs" text-anchor="end">220</text>
<text x="190.5" y="468.14" font-size="6.3" textLength="10.02" lengthAdjust="spacingAndGlyphs" text-anchor="end">240</text>
<text x="190.5" y="452.4" font-size="6.3" textLength="10.02" lengthAdjust="spacingAndGlyphs" text-anchor="end">260</text>
<rect x="194.4" y="444.74" width="133.2" height="44" fill="none" stroke="#2b2b2b" stroke-width="0.8"/>
<text transform="translate(196.52,452.81) scale(1.08,1)" font-size="8.2">p</text>
<path d="M364.38 444.74V488.74M382.14 444.74V488.74M399.9 444.74V488.74M417.66 444.74V488.74M435.42 444.74V488.74M453.18 444.74V488.74M470.94 444.74V488.74M488.7 444.74V488.74M355.5 481.73H488.7M355.5 465.99H488.7M355.5 450.25H488.7" stroke="#e3e3e3" stroke-width="0.8" fill="none"/>
<clipPath id="cp72"><rect x="355.5" y="444.74" width="133.2" height="44"/></clipPath>
<polyline points="355.41,478.68 356.03,480.72 356.65,479.7 357.45,481.74 358.08,480.72 359.05,479.7 360.12,481.74 361.09,480.72 362.16,479.7 363.14,481.74 364.2,480.72 365.18,481.74 366.24,480.31 367.22,480.72 368.29,479.7 369.26,478.68 370.33,480.72 371.31,479.7 372.37,480.72 373.35,482.76 374.41,479.7 375.39,480.72 376.46,484.8 377.43,486.84 378.5,483.78 379.48,480.72 380.54,478.68 381.52,474.6 382.58,473.58 383.56,476.64 384.54,477.66 385.6,479.7 386.58,477.66 387.65,476.64 388.62,478.68 389.69,480.72 390.66,477.66 391.73,475.62 392.71,475.62 393.77,478.68 394.75,479.7 395.82,480.31 396.79,480.31 397.86,480.72 398.83,480.72 399.9,478.68 400.88,476.64 401.94,479.7 402.92,480.72 403.98,479.7 404.96,478.68 406.03,479.7 407,481.74 408.07,480.72 409.05,477.66 410.11,479.7 411.09,480.31 412.15,478.68 413.13,476.64 414.2,477.66 415.17,476.23 416.24,476.64 417.22,475.62 418.28,477.66 419.26,479.7 419.88,476.64 420.68,474.6" fill="none" stroke="#de3430" stroke-width="0.9" stroke-linejoin="round" clip-path="url(#cp72)"/>
<text x="364.38" y="496.94" font-size="6.3" textLength="13.36" lengthAdjust="spacingAndGlyphs" text-anchor="middle">1960</text>
<text x="382.14" y="496.94" font-size="6.3" textLength="13.36" lengthAdjust="spacingAndGlyphs" text-anchor="middle">1980</text>
<text x="399.9" y="496.94" font-size="6.3" textLength="13.36" lengthAdjust="spacingAndGlyphs" text-anchor="middle">2000</text>
<text x="417.66" y="496.94" font-size="6.3" textLength="13.36" lengthAdjust="spacingAndGlyphs" text-anchor="middle">2020</text>
<text x="435.42" y="496.94" font-size="6.3" textLength="13.36" lengthAdjust="spacingAndGlyphs" text-anchor="middle">2040</text>
<text x="453.18" y="496.94" font-size="6.3" textLength="13.36" lengthAdjust="spacingAndGlyphs" text-anchor="middle">2060</text>
<text x="470.94" y="496.94" font-size="6.3" textLength="13.36" lengthAdjust="spacingAndGlyphs" text-anchor="middle">2080</text>
<text x="488.7" y="496.94" font-size="6.3" textLength="13.36" lengthAdjust="spacingAndGlyphs" text-anchor="middle">2100</text>
<path d="M355.5 488.74v1.3M359.94 488.74v1.3M364.38 488.74v2.2M368.82 488.74v1.3M373.26 488.74v1.3M377.7 488.74v1.3M382.14 488.74v2.2M386.58 488.74v1.3M391.02 488.74v1.3M395.46 488.74v1.3M399.9 488.74v2.2M404.34 488.74v1.3M408.78 488.74v1.3M413.22 488.74v1.3M417.66 488.74v2.2M422.1 488.74v1.3M426.54 488.74v1.3M430.98 488.74v1.3M435.42 488.74v2.2M439.86 488.74v1.3M444.3 488.74v1.3M448.74 488.74v1.3M453.18 488.74v2.2M457.62 488.74v1.3M462.06 488.74v1.3M466.5 488.74v1.3M470.94 488.74v2.2M475.38 488.74v1.3M479.82 488.74v1.3M484.26 488.74v1.3M488.7 488.74v2.2M355.5 485.67h-1.3M355.5 481.73h-2.2M355.5 477.8h-1.3M355.5 473.86h-1.3M355.5 469.93h-1.3M355.5 465.99h-2.2M355.5 462.06h-1.3M355.5 458.12h-1.3M355.5 454.19h-1.3M355.5 450.25h-2.2M355.5 446.31h-1.3" stroke="#2b2b2b" stroke-width="0.6" fill="none"/>
<text x="351.6" y="483.88" font-size="6.3" textLength="10.02" lengthAdjust="spacingAndGlyphs" text-anchor="end">220</text>
<text x="351.6" y="468.14" font-size="6.3" textLength="10.02" lengthAdjust="spacingAndGlyphs" text-anchor="end">240</text>
<text x="351.6" y="452.4" font-size="6.3" textLength="10.02" lengthAdjust="spacingAndGlyphs" text-anchor="end">260</text>
<rect x="355.5" y="444.74" width="133.2" height="44" fill="none" stroke="#2b2b2b" stroke-width="0.8"/>
<text transform="translate(357.99,453.13) scale(1.08,1)" font-size="8.2">x</text>
<rect x="452.6" y="447.44" width="32.7" height="9.6" rx="1.3" fill="#fff" fill-opacity="0.8" stroke="#d6d6d6" stroke-width="0.6"/>
<line x1="454.3" y1="451.94" x2="465.5" y2="451.94" stroke="#de3430" stroke-width="0.9"/>
<text x="469.8" y="454.04" font-size="6.3" textLength="13.42" lengthAdjust="spacingAndGlyphs">ERA5</text>
<text transform="translate(10.2,467.54) rotate(-90)" font-size="6.0" text-anchor="middle" textLength="37.11" lengthAdjust="spacingAndGlyphs">LWd radiation</text>
<text transform="translate(16,466.14) rotate(-90)" font-size="6.0" text-anchor="middle" textLength="20.07" lengthAdjust="spacingAndGlyphs">(W/m2)</text>
<text x="99.9" y="504.7" font-size="6.3" textLength="11.22" lengthAdjust="spacingAndGlyphs" text-anchor="middle">Year</text>
<text x="261" y="504.7" font-size="6.3" textLength="11.22" lengthAdjust="spacingAndGlyphs" text-anchor="middle">Year</text>
<text x="422.1" y="504.7" font-size="6.3" textLength="11.22" lengthAdjust="spacingAndGlyphs" text-anchor="middle">Year</text>
</svg>
</body></html>
